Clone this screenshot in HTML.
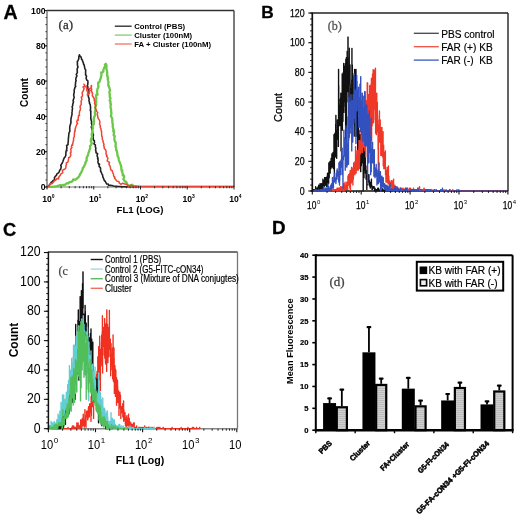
<!DOCTYPE html>
<html><head><meta charset="utf-8"><style>html,body{margin:0;padding:0;background:#fff;width:520px;height:526px;overflow:hidden}svg{display:block;filter:blur(0.35px)}</style></head>
<body>
<svg width="520" height="526" viewBox="0 0 520 526">
<rect width="520" height="526" fill="#fff"/>
<text x="3.5" y="18.6" font-size="19.6" font-family='"Liberation Sans", sans-serif' fill="#000" stroke="#000" stroke-width="0.3" font-weight="bold" >A</text>
<line x1="47" y1="187" x2="234" y2="187" stroke="#777" stroke-width="1.0" />
<polyline points="47,187 48.19,186.01 49.57,184.86 50.55,183.42 51.1,182.51 52.66,181.01 53.13,180.39 54.55,179.83 54.47,177.4 55.66,175.99 56.48,175.32 56.89,173.97 58.87,172.56 59.66,170.67 59.85,169.94 60.83,168.93 61.23,166.27 60.7,165.35 62.27,163.04 62.7,161.96 63.31,160.19 63.47,159.72 64.33,157.67 64.94,157.16 65.78,155.59 65.83,153.88 66.06,150.98 66.96,150.67 66.57,149.46 66.93,148.04 66.62,145.53 68.05,144.63 68.04,142.8 68.22,141.37 68.34,140.97 68.35,138.32 68.59,137.25 68.63,136.27 68.85,133.86 69.15,132.62 69.88,131.22 69.74,129.66 69.74,127.36 69.78,126.62 69.99,125.86 71.02,122.59 70.85,122.51 70.92,120.54 70.99,118.55 70.94,118.61 71.55,116.34 72.11,113.64 71.88,112.88 72.12,111.64 72.28,109.65 72.56,108.64 72.11,106.65 72.76,105.56 72.69,104.49 73.48,101.68 73.04,100.68 73.69,98.74 74.19,97.56 73.69,95.24 73.75,94.07 74.2,92.76 74.29,91.88 74.1,90.5 74.9,87.5 75.77,86.31 75.27,85.66 75.61,82.57 75.56,81.97 76.18,80.65 75.75,79.92 75.93,78.04 76.92,75.9 76.26,74.33 77.1,72.87 77.4,72.39 77.11,69.69 77.37,68.23 78.03,67.09 77.42,65.27 77.44,63.69 77.32,61.6 77.98,60.73 78.66,58.93 78.87,58.43 78.79,56.7 79.42,54.87 80.19,56.32 81.14,57.11 81.61,59.34 82.38,60.12 82.9,61.94 83.18,62.28 83.76,64.72 84.23,64.99 84.43,66.3 84.94,68.85 85.73,70.01 85.57,72.16 85.69,74.92 85.44,74.57 86.56,76.19 86.09,78.19 86.66,79.86 87.85,80.95 87.94,82.47 87.73,84.55 87.27,85.98 87.85,86.59 87.84,88.7 88.42,90.31 89.1,91.2 88.54,93.52 88.36,94.38 88.41,97.01 88.99,98.08 89.13,99.55 88.96,100.67 89.6,102.49 89.32,102.89 90.32,104.94 90.48,107.37 90.67,107.41 90.29,110.73 90.82,110.71 90.73,113.74 90.75,114.32 90.89,116.83 90.66,117.98 90.73,118.52 91.65,121.73 91.42,123.39 91.68,124.02 92.08,125.44 91.22,127.04 91.68,128.09 92.24,130.86 92.59,131.4 92.58,133.21 93.35,134.29 93.32,135.91 93.08,137.04 93.45,140.08 94.34,140.75 94.49,142.94 93.9,143.89 95.34,144.98 95.34,146.73 95.87,148.1 95.59,149.95 95.97,151.22 96.02,152.77 97.68,153.63 97.05,155.48 98.03,158.46 97.57,158.57 98.2,159.84 97.89,162.18 98.7,164.33 99.53,164.12 99.07,166.37 100.29,167.61 100.55,168.38 100.58,171.33 101.29,172.33 101.83,173.84 102.5,174.79 102.85,176.97 103.27,177.82 103.98,179.51 104.27,180.37 105.25,181.41 106.77,184.05 108.19,184.05 108.58,185.3 110.64,185.41 111.92,185.47 113.67,186.03 115.18,186.31 116.73,186.39 118.27,186.46 119.81,186.54 121.35,186.62 122.89,186.69 124.43,186.77 125.97,186.8 127.52,186.8 129.06,186.8 130.6,186.8 132.15,186.8 133.69,186.8 135.23,186.8 136.78,186.8 138.32,186.8 139.86,186.8 141.41,186.8 142.95,186.8 144.49,186.8 146.04,186.8 147.58,186.8 149.12,186.8 150.67,186.8 152.21,186.8 153.75,186.8 155.3,186.8 156.84,186.8 158.38,186.8 159.93,186.8 161.47,186.8 163.01,186.8 164.55,186.8 166.1,186.8 167.64,186.8 169.18,186.8 170.73,186.8 172.27,186.8 173.81,186.8 175.36,186.8 176.9,186.8 178.44,186.8 179.99,186.8 181.53,186.8 183.07,186.8 184.62,186.8 186.16,186.8 187.7,186.8 189.25,186.8 190.79,186.8 192.33,186.8 193.88,186.8 195.42,186.8 196.96,186.8 198.51,186.8 200.05,186.8 201.59,186.8 203.14,186.8 204.68,186.8 206.22,186.8 207.77,186.8 209.31,186.8 210.85,186.8 212.39,186.8 213.94,186.8 215.48,186.8 217.02,186.8 218.57,186.8 220.11,186.8 221.65,186.8 223.2,186.8 224.74,186.8 226.28,186.8 227.83,186.8 229.37,186.8 230.91,186.8 232.46,186.8 234,186.8" fill="none" stroke="#222" stroke-width="1.6" stroke-linejoin="round" />
<polyline points="47,187 48.48,186.95 49.95,186.9 51.43,186.84 52.91,186.77 54.37,186.56 55.83,186.36 57.3,186.15 58.53,185.51 60.36,185.17 61.8,185.38 63.72,184.99 64.51,185.11 65.4,184.42 67.05,183.05 68.36,183.36 69.63,181.97 71.6,181.85 72.48,181.32 73.2,179.39 75.37,179.83 76.28,179.01 77.66,177.97 78.71,176.9 79.57,175.61 80.02,173.93 81.11,173.03 81.49,171.54 82.14,170.61 82.81,168.51 82.8,168.05 83.93,166.68 84.56,165.19 85.4,163.69 85.29,162.88 86.79,160.13 86.67,159.99 86.62,158.45 86.86,157.06 87.8,155.7 88.3,153.66 88.5,152.48 89.21,151.61 89.38,150.07 90.22,148.51 89.98,146.02 90.46,145.79 91.05,144.71 91.85,143.15 90.79,141.23 91.21,138.69 91.3,138.73 92.12,136.62 91.65,133.72 92.11,134.01 92.5,131.43 92.39,130.08 92.62,129.02 92.99,128.7 92.59,126.25 93,125.16 93.56,124.58 93.94,123.02 94.01,120.54 93.62,118.99 94.27,116.91 94.91,115.78 95.01,114.99 94.96,113.5 94.86,111.87 95.59,110.93 95.27,108.4 95.15,107.35 95.38,106.35 96.28,104.79 95.94,103.6 96.37,101.72 95.87,99.82 96.48,98.75 96.02,96.46 96.34,94.61 97.58,94.49 97.25,92.66 97.07,91.43 97.51,88.77 97.94,88.12 98.54,86.53 98.22,84.92 98.16,82.66 99.08,82.39 99.58,81.7 100.01,79.97 100.83,77.95 100.87,76.88 101.47,75.93 101.25,72.42 102.42,72.59 103.33,71.59 103.32,70.27 103.6,69.48 104.12,67.77 105.31,65.93 104.93,64.57 105.79,63.84 106.21,64.51 106.53,66.27 106.32,68.3 106.81,70.39 106.82,70.58 107.17,72.11 107.26,73.73 107.07,75.88 107.64,76.53 108.14,78.9 107.65,78.9 108.09,80.84 108.59,82.3 108.14,84.36 108.76,85.98 108.46,85.92 109.39,87.75 109.96,89.97 109.99,90.84 109.33,91.8 109.82,94.8 109.74,95.95 109.87,97.42 110.54,98.31 109.63,100.69 110.6,101.4 110.33,103.67 110.97,103.94 110.65,105.45 110.46,107.56 110.92,108.49 111.21,110.79 111.08,112.01 111.41,112.77 111.24,114.83 110.85,116.04 112.13,118.27 112.25,118.81 112.24,120.39 112.4,122.84 112.94,124.93 112.6,126.25 112.7,126.55 113.07,128.11 113.76,130.37 113.04,130.84 114.17,131.79 113.72,133.91 113.76,135.57 114.81,136.27 114.53,137.24 114.3,138.83 114.84,141.56 115.51,142.17 115.81,144 115.43,145.68 115.94,147.39 116.25,148.28 116.13,150.21 116.87,150.81 117.1,152.55 117.29,153.59 117.68,156.31 118.25,157.04 118.61,158.05 118.77,159.71 119.19,161.22 120.12,163.2 120.17,163.26 120.78,165.02 121.27,166.85 121.44,170.02 122.44,170.5 121.73,171.28 122.72,173.2 122.71,175.43 123.9,175.47 124.24,176.82 123.33,179.19 124.08,180.18 125.12,181.68 126.26,181.97 127.33,184.43 128.13,185.3 129.4,185.61 130.82,186.11 132.03,184.64 133.52,186.01 134.99,186.17 136.46,186.32 137.94,186.48 139.41,186.63 140.88,186.79 142.35,186.8 143.83,186.8 145.31,186.8 146.79,186.8 148.27,186.8 149.74,186.8 151.22,186.8 152.7,186.8 154.18,186.8 155.66,186.8 157.13,186.8 158.61,186.8 160.09,186.8 161.57,186.8 163.05,186.8 164.53,186.8 166,186.8 167.48,186.8 168.96,186.8 170.44,186.8 171.92,186.8 173.39,186.8 174.87,186.8 176.35,186.8 177.83,186.8 179.31,186.8 180.79,186.8 182.26,186.8 183.74,186.8 185.22,186.8 186.7,186.8 188.18,186.8 189.65,186.8 191.13,186.8 192.61,186.8 194.09,186.8 195.57,186.8 197.05,186.8 198.52,186.8 200,186.8 201.48,186.8 202.96,186.8 204.44,186.8 205.91,186.8 207.39,186.8 208.87,186.8 210.35,186.8 211.83,186.8 213.31,186.8 214.78,186.8 216.26,186.8 217.74,186.8 219.22,186.8 220.7,186.8 222.17,186.8 223.65,186.8 225.13,186.8 226.61,186.8 228.09,186.8 229.57,186.8 231.04,186.8 232.52,186.8 234,186.8" fill="none" stroke="#6cc848" stroke-width="2.3" stroke-linejoin="round" />
<polyline points="47,187 48.11,186.22 49.03,186.49 50.31,183.48 52.01,183.71 51.93,183.64 53.65,182 54.22,180.81 55.6,180.2 56.83,178.61 57.46,178.55 58.67,178.94 58.73,177.16 60.61,174.8 60.9,173.94 62.25,173.21 62.73,172.86 62.37,170.57 63.66,169.46 64.65,169.21 65.77,168 65.95,166.06 66.45,164.36 66.33,162.84 67.83,162.08 68.44,159.89 68.27,160.41 68.66,158.31 68.57,157.69 69.8,157.21 70.79,155.48 70.4,152.77 70.93,152.67 71,151.53 70.79,149.08 71.95,147.64 71.36,146.83 72.06,144.62 72.57,145.15 73.12,141.51 73.28,140.98 73.6,140.17 73.52,138.88 73.6,137.79 74.35,136.52 74.34,134.91 74.39,134.39 74.68,131.09 75.22,131.05 75,129.29 75.45,128.47 75.61,127.2 76.53,125.19 76.88,124.03 77.72,123.56 76.73,121.96 77.29,120.02 78.18,120.33 78.16,119.2 78.51,115.64 79.64,115.4 79.29,115.43 79.39,113.1 79.55,111.43 80.31,109.82 80.47,108.28 80.03,107.13 80.33,105.58 81.05,105.02 81.26,102.99 81.04,101.63 81.71,99.84 81.91,99.19 81.27,97.35 82.02,96.44 82.51,95.83 82.38,94.09 82.05,92.84 82.96,91.42 83.56,89.91 84.1,88.46 82.97,87.02 84.94,86.33 83.9,84.18 85.48,86.7 86.42,86.99 86.72,87.81 86.81,89.26 86.72,90.45 87.75,92.25 87.65,93.02 87.38,95.44 89.64,93.06 89.2,90.86 89.93,90.47 89.27,88.39 90.46,88.25 91.02,87.66 91.58,86.19 91.35,85.5 91.15,87.18 91.74,90.04 91.24,90.5 91.65,91.65 92.52,93.61 92.36,95.79 92.88,96.43 93.19,97.06 94.24,98.5 94.33,99.98 94.16,100.56 94.93,101.61 94.53,103.59 95.01,104.31 95.78,106.15 95.34,107.56 96.02,110.22 95.97,109.62 96.82,111.37 97.69,112.66 97.13,114.34 97.78,116.03 97.67,116.43 97.88,117.55 98.14,118.38 99.41,120.13 100.03,122.33 99.65,123.36 99.52,124.04 100.33,125.75 100.25,127.32 100.96,128.92 101.05,129.59 101.31,131.12 101.69,131.51 101.52,133.24 101.85,136.23 101.64,135.28 102.36,137.72 102.27,139.38 102.99,140.35 102.96,141.42 103.6,143.2 103.99,144.56 103.58,145.84 104.06,146.09 104.28,148.46 105.28,149.33 106.01,150.81 106.1,152.58 106.06,154.12 107.1,155.57 106.42,156.03 107.9,158.18 107.51,159.63 107.14,160.9 109.49,162.35 109.49,162.73 108.94,164 109.77,165.9 110.02,165.88 110.55,168.12 110.49,168.93 111.29,170.28 112.22,170.71 112.64,172.47 113.5,174.25 113.61,176.05 114.94,177.37 114.35,177.98 115.33,179.08 115.6,179.54 116.9,181.12 118.89,181.58 119.13,182.94 120.83,184.27 121.89,183.64 122.82,183.2 124.35,184.03 125.57,184.11 126.92,184.49 128.7,186.21 130,185.78 130.9,184.95 132.44,186.08 133.78,186.3 135.12,186.5 136.47,186.51 137.83,186.51 139.18,186.52 140.54,186.52 141.89,186.53 143.24,186.53 144.6,186.54 145.95,186.54 147.31,186.55 148.66,186.55 150.02,186.56 151.37,186.57 152.73,186.57 154.08,186.58 155.44,186.58 156.79,186.59 158.14,186.59 159.5,186.6 160.85,186.6 162.21,186.6 163.56,186.6 164.92,186.6 166.27,186.6 167.63,186.6 168.98,186.6 170.34,186.6 171.69,186.6 173.04,186.6 174.4,186.6 175.75,186.6 177.11,186.6 178.46,186.6 179.82,186.6 181.17,186.6 182.53,186.6 183.88,186.6 185.24,186.6 186.59,186.6 187.94,186.6 189.3,186.6 190.65,186.6 192.01,186.6 193.36,186.6 194.72,186.6 196.07,186.6 197.43,186.6 198.78,186.6 200.14,186.6 201.49,186.6 202.84,186.6 204.2,186.6 205.55,186.6 206.91,186.6 208.26,186.6 209.62,186.6 210.97,186.6 212.33,186.6 213.68,186.6 215.04,186.6 216.39,186.6 217.75,186.6 219.1,186.6 220.45,186.6 221.81,186.6 223.16,186.6 224.52,186.6 225.87,186.6 227.23,186.6 228.58,186.6 229.94,186.6 231.29,186.6 232.65,186.6 234,186.6" fill="none" stroke="#ee4433" stroke-width="1.5" stroke-linejoin="round" />
<line x1="47" y1="10.5" x2="234" y2="10.5" stroke="#333" stroke-width="1.3" />
<line x1="234" y1="10.5" x2="234" y2="187" stroke="#333" stroke-width="1.3" />
<line x1="47" y1="10.5" x2="47" y2="187" stroke="#666" stroke-width="1.3" />
<line x1="45.4" y1="187" x2="47" y2="187" stroke="#333" stroke-width="0.9" />
<line x1="45.4" y1="179.94" x2="47" y2="179.94" stroke="#333" stroke-width="0.9" />
<line x1="45.4" y1="172.88" x2="47" y2="172.88" stroke="#333" stroke-width="0.9" />
<line x1="45.4" y1="165.82" x2="47" y2="165.82" stroke="#333" stroke-width="0.9" />
<line x1="45.4" y1="158.76" x2="47" y2="158.76" stroke="#333" stroke-width="0.9" />
<line x1="45.4" y1="151.7" x2="47" y2="151.7" stroke="#333" stroke-width="0.9" />
<line x1="45.4" y1="144.64" x2="47" y2="144.64" stroke="#333" stroke-width="0.9" />
<line x1="45.4" y1="137.58" x2="47" y2="137.58" stroke="#333" stroke-width="0.9" />
<line x1="45.4" y1="130.52" x2="47" y2="130.52" stroke="#333" stroke-width="0.9" />
<line x1="45.4" y1="123.46" x2="47" y2="123.46" stroke="#333" stroke-width="0.9" />
<line x1="45.4" y1="116.4" x2="47" y2="116.4" stroke="#333" stroke-width="0.9" />
<line x1="45.4" y1="109.34" x2="47" y2="109.34" stroke="#333" stroke-width="0.9" />
<line x1="45.4" y1="102.28" x2="47" y2="102.28" stroke="#333" stroke-width="0.9" />
<line x1="45.4" y1="95.22" x2="47" y2="95.22" stroke="#333" stroke-width="0.9" />
<line x1="45.4" y1="88.16" x2="47" y2="88.16" stroke="#333" stroke-width="0.9" />
<line x1="45.4" y1="81.1" x2="47" y2="81.1" stroke="#333" stroke-width="0.9" />
<line x1="45.4" y1="74.04" x2="47" y2="74.04" stroke="#333" stroke-width="0.9" />
<line x1="45.4" y1="66.98" x2="47" y2="66.98" stroke="#333" stroke-width="0.9" />
<line x1="45.4" y1="59.92" x2="47" y2="59.92" stroke="#333" stroke-width="0.9" />
<line x1="45.4" y1="52.86" x2="47" y2="52.86" stroke="#333" stroke-width="0.9" />
<line x1="45.4" y1="45.8" x2="47" y2="45.8" stroke="#333" stroke-width="0.9" />
<line x1="45.4" y1="38.74" x2="47" y2="38.74" stroke="#333" stroke-width="0.9" />
<line x1="45.4" y1="31.68" x2="47" y2="31.68" stroke="#333" stroke-width="0.9" />
<line x1="45.4" y1="24.62" x2="47" y2="24.62" stroke="#333" stroke-width="0.9" />
<line x1="45.4" y1="17.56" x2="47" y2="17.56" stroke="#333" stroke-width="0.9" />
<line x1="45.4" y1="10.5" x2="47" y2="10.5" stroke="#333" stroke-width="0.9" />
<line x1="44" y1="187" x2="47" y2="187" stroke="#222" stroke-width="1.0" />
<text x="45.6" y="190.4" font-size="9.6" font-family='"Liberation Sans", sans-serif' fill="#000" font-weight="bold" text-anchor="end" textLength="4.85" lengthAdjust="spacingAndGlyphs" >0</text>
<line x1="44" y1="151.7" x2="47" y2="151.7" stroke="#222" stroke-width="1.0" />
<text x="45.6" y="155.1" font-size="9.6" font-family='"Liberation Sans", sans-serif' fill="#000" font-weight="bold" text-anchor="end" textLength="9.7" lengthAdjust="spacingAndGlyphs" >20</text>
<line x1="44" y1="116.4" x2="47" y2="116.4" stroke="#222" stroke-width="1.0" />
<text x="45.6" y="119.8" font-size="9.6" font-family='"Liberation Sans", sans-serif' fill="#000" font-weight="bold" text-anchor="end" textLength="9.7" lengthAdjust="spacingAndGlyphs" >40</text>
<line x1="44" y1="81.1" x2="47" y2="81.1" stroke="#222" stroke-width="1.0" />
<text x="45.6" y="84.5" font-size="9.6" font-family='"Liberation Sans", sans-serif' fill="#000" font-weight="bold" text-anchor="end" textLength="9.7" lengthAdjust="spacingAndGlyphs" >60</text>
<line x1="44" y1="45.8" x2="47" y2="45.8" stroke="#222" stroke-width="1.0" />
<text x="45.6" y="49.2" font-size="9.6" font-family='"Liberation Sans", sans-serif' fill="#000" font-weight="bold" text-anchor="end" textLength="9.7" lengthAdjust="spacingAndGlyphs" >80</text>
<line x1="44" y1="10.5" x2="47" y2="10.5" stroke="#222" stroke-width="1.0" />
<text x="45.6" y="13.9" font-size="9.6" font-family='"Liberation Sans", sans-serif' fill="#000" font-weight="bold" text-anchor="end" textLength="14.55" lengthAdjust="spacingAndGlyphs" >100</text>
<line x1="47" y1="186" x2="47" y2="189.5" stroke="#222" stroke-width="1.0" />
<text x="47" y="201.6" font-size="8.6" font-family='"Liberation Sans", sans-serif' fill="#000" font-weight="bold" text-anchor="middle" >10</text>
<text x="51.7" y="197.5" font-size="5" font-family='"Liberation Sans", sans-serif' fill="#000" font-weight="bold" >0</text>
<line x1="61.07" y1="186.1" x2="61.07" y2="188.3" stroke="#333" stroke-width="1.0" />
<line x1="69.31" y1="186.1" x2="69.31" y2="188.3" stroke="#333" stroke-width="1.0" />
<line x1="75.15" y1="186.1" x2="75.15" y2="188.3" stroke="#333" stroke-width="1.0" />
<line x1="79.68" y1="186.1" x2="79.68" y2="188.3" stroke="#333" stroke-width="1.0" />
<line x1="83.38" y1="186.1" x2="83.38" y2="188.3" stroke="#333" stroke-width="1.0" />
<line x1="86.51" y1="186.1" x2="86.51" y2="188.3" stroke="#333" stroke-width="1.0" />
<line x1="89.22" y1="186.1" x2="89.22" y2="188.3" stroke="#333" stroke-width="1.0" />
<line x1="91.61" y1="186.1" x2="91.61" y2="188.3" stroke="#333" stroke-width="1.0" />
<line x1="93.75" y1="186" x2="93.75" y2="189.5" stroke="#222" stroke-width="1.0" />
<text x="93.75" y="201.6" font-size="8.6" font-family='"Liberation Sans", sans-serif' fill="#000" font-weight="bold" text-anchor="middle" >10</text>
<text x="98.45" y="197.5" font-size="5" font-family='"Liberation Sans", sans-serif' fill="#000" font-weight="bold" >1</text>
<line x1="107.82" y1="186.1" x2="107.82" y2="188.3" stroke="#333" stroke-width="1.0" />
<line x1="116.06" y1="186.1" x2="116.06" y2="188.3" stroke="#333" stroke-width="1.0" />
<line x1="121.9" y1="186.1" x2="121.9" y2="188.3" stroke="#333" stroke-width="1.0" />
<line x1="126.43" y1="186.1" x2="126.43" y2="188.3" stroke="#333" stroke-width="1.0" />
<line x1="130.13" y1="186.1" x2="130.13" y2="188.3" stroke="#333" stroke-width="1.0" />
<line x1="133.26" y1="186.1" x2="133.26" y2="188.3" stroke="#333" stroke-width="1.0" />
<line x1="135.97" y1="186.1" x2="135.97" y2="188.3" stroke="#333" stroke-width="1.0" />
<line x1="138.36" y1="186.1" x2="138.36" y2="188.3" stroke="#333" stroke-width="1.0" />
<line x1="140.5" y1="186" x2="140.5" y2="189.5" stroke="#222" stroke-width="1.0" />
<text x="140.5" y="201.6" font-size="8.6" font-family='"Liberation Sans", sans-serif' fill="#000" font-weight="bold" text-anchor="middle" >10</text>
<text x="145.2" y="197.5" font-size="5" font-family='"Liberation Sans", sans-serif' fill="#000" font-weight="bold" >2</text>
<line x1="154.57" y1="186.1" x2="154.57" y2="188.3" stroke="#333" stroke-width="1.0" />
<line x1="162.81" y1="186.1" x2="162.81" y2="188.3" stroke="#333" stroke-width="1.0" />
<line x1="168.65" y1="186.1" x2="168.65" y2="188.3" stroke="#333" stroke-width="1.0" />
<line x1="173.18" y1="186.1" x2="173.18" y2="188.3" stroke="#333" stroke-width="1.0" />
<line x1="176.88" y1="186.1" x2="176.88" y2="188.3" stroke="#333" stroke-width="1.0" />
<line x1="180.01" y1="186.1" x2="180.01" y2="188.3" stroke="#333" stroke-width="1.0" />
<line x1="182.72" y1="186.1" x2="182.72" y2="188.3" stroke="#333" stroke-width="1.0" />
<line x1="185.11" y1="186.1" x2="185.11" y2="188.3" stroke="#333" stroke-width="1.0" />
<line x1="187.25" y1="186" x2="187.25" y2="189.5" stroke="#222" stroke-width="1.0" />
<text x="187.25" y="201.6" font-size="8.6" font-family='"Liberation Sans", sans-serif' fill="#000" font-weight="bold" text-anchor="middle" >10</text>
<text x="191.95" y="197.5" font-size="5" font-family='"Liberation Sans", sans-serif' fill="#000" font-weight="bold" >3</text>
<line x1="201.32" y1="186.1" x2="201.32" y2="188.3" stroke="#333" stroke-width="1.0" />
<line x1="209.56" y1="186.1" x2="209.56" y2="188.3" stroke="#333" stroke-width="1.0" />
<line x1="215.4" y1="186.1" x2="215.4" y2="188.3" stroke="#333" stroke-width="1.0" />
<line x1="219.93" y1="186.1" x2="219.93" y2="188.3" stroke="#333" stroke-width="1.0" />
<line x1="223.63" y1="186.1" x2="223.63" y2="188.3" stroke="#333" stroke-width="1.0" />
<line x1="226.76" y1="186.1" x2="226.76" y2="188.3" stroke="#333" stroke-width="1.0" />
<line x1="229.47" y1="186.1" x2="229.47" y2="188.3" stroke="#333" stroke-width="1.0" />
<line x1="231.86" y1="186.1" x2="231.86" y2="188.3" stroke="#333" stroke-width="1.0" />
<line x1="234" y1="186" x2="234" y2="189.5" stroke="#222" stroke-width="1.0" />
<text x="234" y="201.6" font-size="8.6" font-family='"Liberation Sans", sans-serif' fill="#000" font-weight="bold" text-anchor="middle" >10</text>
<text x="238.7" y="197.5" font-size="5" font-family='"Liberation Sans", sans-serif' fill="#000" font-weight="bold" >4</text>
<text x="24.5" y="92.5" font-size="10" font-family='"Liberation Sans", sans-serif' fill="#000" font-weight="bold" text-anchor="middle" transform="rotate(-90 24.5 92.5)" dominant-baseline="central">Count</text>
<text x="140" y="212.6" font-size="9.6" font-family='"Liberation Sans", sans-serif' fill="#000" font-weight="bold" text-anchor="middle" >FL1 (LOG)</text>
<text x="58.6" y="29.2" font-size="13" font-family='"Liberation Serif", serif' fill="#333" stroke="#333" stroke-width="0.3" >(a)</text>
<line x1="114.8" y1="26.2" x2="131.6" y2="26.2" stroke="#333" stroke-width="1.4" />
<text x="134.2" y="29" font-size="7.7" font-family='"Liberation Sans", sans-serif' fill="#000" font-weight="bold" textLength="51" lengthAdjust="spacingAndGlyphs" >Control (PBS)</text>
<line x1="114.8" y1="35.1" x2="131.6" y2="35.1" stroke="#8fd070" stroke-width="1.4" />
<text x="134.2" y="37.9" font-size="7.7" font-family='"Liberation Sans", sans-serif' fill="#000" font-weight="bold" textLength="58" lengthAdjust="spacingAndGlyphs" >Cluster (100nM)</text>
<line x1="114.8" y1="44" x2="131.6" y2="44" stroke="#f08070" stroke-width="1.4" />
<text x="134.2" y="46.8" font-size="7.7" font-family='"Liberation Sans", sans-serif' fill="#000" font-weight="bold" textLength="77" lengthAdjust="spacingAndGlyphs" >FA + Cluster (100nM)</text>
<text x="261.3" y="17.6" font-size="17.3" font-family='"Liberation Sans", sans-serif' fill="#000" stroke="#000" stroke-width="0.3" font-weight="bold" >B</text>
<line x1="311.5" y1="191" x2="508" y2="191" stroke="#111" stroke-width="1.7" />
<polyline points="312.3,191 312.49,191 312.49,189.52 312.87,189.52 312.87,191 313.06,191 313.06,189.52 313.26,189.52 313.26,191 313.64,191 313.64,189.52 313.83,189.52 313.83,191 314.02,191 314.02,189.52 314.21,189.52 314.21,191 315.17,191 315.17,189.52 315.36,189.52 315.36,191 315.55,191 315.55,186.55 315.74,186.55 315.74,191 316.12,191 316.12,189.52 316.31,189.52 316.31,191 316.5,191 316.5,189.52 316.69,189.52 316.69,188.03 316.88,188.03 316.88,189.52 317.08,189.52 317.08,191 317.27,191 317.27,188.03 317.46,188.03 317.46,191 317.65,191 317.65,188.03 317.84,188.03 317.84,189.52 318.03,189.52 318.03,186.55 318.22,186.55 318.22,188.03 318.41,188.03 318.41,191 318.6,191 318.6,185.07 318.79,185.07 318.79,191 318.99,191 318.99,186.55 319.18,186.55 319.18,191 319.37,191 319.37,185.07 319.56,185.07 319.56,188.03 319.75,188.03 319.75,189.52 319.94,189.52 319.94,183.59 320.13,183.59 320.13,186.55 320.32,186.55 320.32,191 320.51,191 320.51,186.55 320.7,186.55 320.7,188.03 321.28,188.03 321.28,183.59 321.66,183.59 321.66,188.03 321.85,188.03 321.85,189.52 322.04,189.52 322.04,186.55 322.23,186.55 322.23,183.59 322.42,183.59 322.42,189.52 322.61,189.52 322.61,188.03 322.81,188.03 322.81,179.14 323,179.14 323,188.03 323.19,188.03 323.19,185.07 323.38,185.07 323.38,183.59 323.57,183.59 323.57,185.07 323.76,185.07 323.76,180.62 324.14,180.62 324.14,186.55 324.33,186.55 324.33,182.1 324.53,182.1 324.53,177.65 324.72,177.65 324.72,185.07 324.91,185.07 324.91,177.65 325.1,177.65 325.1,183.59 325.29,183.59 325.29,185.07 325.48,185.07 325.48,180.62 325.67,180.62 325.67,177.65 325.86,177.65 325.86,182.1 326.05,182.1 326.05,177.65 326.24,177.65 326.24,182.1 326.44,182.1 326.44,186.55 326.63,186.55 326.63,179.14 326.82,179.14 326.82,177.65 327.01,177.65 327.01,176.17 327.2,176.17 327.2,186.55 327.39,186.55 327.39,173.2 327.58,173.2 327.58,179.14 327.77,179.14 327.77,182.1 328.15,182.1 328.15,174.69 328.54,174.69 328.54,183.59 328.73,183.59 328.73,162.82 328.92,162.82 328.92,165.79 329.11,165.79 329.11,177.65 329.3,177.65 329.3,164.31 329.49,164.31 329.49,167.27 329.68,167.27 329.68,170.24 329.87,170.24 329.87,161.34 330.06,161.34 330.06,173.2 330.26,173.2 330.26,168.75 330.45,168.75 330.45,162.82 330.64,162.82 330.64,165.79 330.83,165.79 330.83,168.75 331.02,168.75 331.02,158.37 331.21,158.37 331.21,159.86 331.4,159.86 331.4,167.27 331.59,167.27 331.59,165.79 331.78,165.79 331.78,153.93 331.97,153.93 331.97,158.37 332.36,158.37 332.36,164.31 332.55,164.31 332.55,167.27 332.74,167.27 332.74,164.31 332.93,164.31 332.93,152.44 333.31,152.44 333.31,168.75 333.5,168.75 333.5,155.41 333.69,155.41 333.69,165.79 333.88,165.79 333.88,134.65 334.08,134.65 334.08,153.93 334.27,153.93 334.27,177.65 334.46,177.65 334.46,146.51 334.65,146.51 334.65,142.06 334.84,142.06 334.84,133.16 335.03,133.16 335.03,143.54 335.22,143.54 335.22,147.99 335.41,147.99 335.41,156.89 335.6,156.89 335.6,124.27 335.79,124.27 335.79,115.37 335.99,115.37 335.99,140.58 336.37,140.58 336.37,133.16 336.56,133.16 336.56,158.37 336.75,158.37 336.75,130.2 336.94,130.2 336.94,131.68 337.13,131.68 337.13,139.09 337.32,139.09 337.32,119.82 337.51,119.82 337.51,133.16 337.71,133.16 337.71,124.27 337.9,124.27 337.9,130.2 338.09,130.2 338.09,137.61 338.28,137.61 338.28,146.51 338.47,146.51 338.47,69.39 338.66,69.39 338.66,85.71 338.85,85.71 338.85,102.02 339.04,102.02 339.04,99.05 339.23,99.05 339.23,125.75 339.42,125.75 339.42,109.43 339.62,109.43 339.62,125.75 339.81,125.75 339.81,121.3 340,121.3 340,124.27 340.19,124.27 340.19,121.3 340.38,121.3 340.38,104.99 340.57,104.99 340.57,97.57 340.76,97.57 340.76,93.12 340.95,93.12 340.95,150.96 341.14,150.96 341.14,106.47 341.33,106.47 341.33,112.4 341.53,112.4 341.53,118.33 341.72,118.33 341.72,116.85 341.91,116.85 341.91,100.54 342.1,100.54 342.1,73.84 342.29,73.84 342.29,130.2 342.48,130.2 342.48,87.19 342.67,87.19 342.67,79.77 342.86,79.77 342.86,121.3 343.05,121.3 343.05,81.26 343.24,81.26 343.24,72.36 343.44,72.36 343.44,81.26 343.63,81.26 343.63,63.46 343.82,63.46 343.82,112.4 344.01,112.4 344.01,106.47 344.2,106.47 344.2,102.02 344.39,102.02 344.39,66.43 344.58,66.43 344.58,84.22 344.77,84.22 344.77,96.09 344.96,96.09 344.96,97.57 345.15,97.57 345.15,91.64 345.35,91.64 345.35,63.46 345.54,63.46 345.54,143.54 345.73,143.54 345.73,59.01 345.92,59.01 345.92,119.82 346.11,119.82 346.11,140.58 346.3,140.58 346.3,57.53 346.49,57.53 346.49,133.16 346.68,133.16 346.68,70.88 346.87,70.88 346.87,102.02 347.06,102.02 347.06,51.23 347.26,51.23 347.26,59.01 347.45,59.01 347.45,57.53 347.64,57.53 347.64,90.16 348.02,90.16 348.02,84.22 348.21,84.22 348.21,91.64 348.4,91.64 348.4,66.43 348.59,66.43 348.59,85.71 348.78,85.71 348.78,116.85 348.98,116.85 348.98,57.53 349.17,57.53 349.17,48.17 349.36,48.17 349.36,81.26 349.55,81.26 349.55,78.29 349.74,78.29 349.74,70.88 349.93,70.88 349.93,64.94 350.12,64.94 350.12,84.22 350.31,84.22 350.31,112.4 350.5,112.4 350.5,118.33 350.69,118.33 350.69,94.6 350.89,94.6 350.89,88.67 351.08,88.67 351.08,100.54 351.27,100.54 351.27,88.67 351.46,88.67 351.46,109.43 351.65,109.43 351.65,79.77 351.84,79.77 351.84,48.35 352.03,48.35 352.03,96.09 352.22,96.09 352.22,64.94 352.41,64.94 352.41,87.19 352.6,87.19 352.6,91.64 352.8,91.64 352.8,122.78 352.99,122.78 352.99,90.16 353.18,90.16 353.18,99.05 353.37,99.05 353.37,88.67 353.56,88.67 353.56,76.81 353.75,76.81 353.75,87.19 353.94,87.19 353.94,75.33 354.13,75.33 354.13,136.13 354.32,136.13 354.32,116.85 354.51,116.85 354.51,69.39 354.71,69.39 354.71,115.37 354.9,115.37 354.9,125.75 355.09,125.75 355.09,99.05 355.28,99.05 355.28,116.85 355.47,116.85 355.47,115.37 355.66,115.37 355.66,116.85 355.85,116.85 355.85,69.39 356.04,69.39 356.04,110.92 356.23,110.92 356.23,118.33 356.42,118.33 356.42,136.13 356.62,136.13 356.62,81.26 356.81,81.26 356.81,134.65 357,134.65 357,96.09 357.19,96.09 357.19,110.92 357.38,110.92 357.38,115.37 357.57,115.37 357.57,153.93 357.76,153.93 357.76,130.2 357.95,130.2 357.95,116.85 358.14,116.85 358.14,152.44 358.33,152.44 358.33,122.78 358.53,122.78 358.53,145.03 358.72,145.03 358.72,156.89 358.91,156.89 358.91,130.2 359.1,130.2 359.1,139.09 359.29,139.09 359.29,159.86 359.48,159.86 359.48,136.13 359.67,136.13 359.67,145.03 359.86,145.03 359.86,137.61 360.05,137.61 360.05,139.09 360.24,139.09 360.24,134.65 360.44,134.65 360.44,158.37 360.63,158.37 360.63,171.72 360.82,171.72 360.82,162.82 361.01,162.82 361.01,156.89 361.2,156.89 361.2,165.79 361.39,165.79 361.39,145.03 361.58,145.03 361.58,146.51 361.77,146.51 361.77,159.86 361.96,159.86 361.96,149.48 362.16,149.48 362.16,159.86 362.35,159.86 362.35,162.82 362.73,162.82 362.73,143.54 362.92,143.54 362.92,149.48 363.11,149.48 363.11,191 363.3,191 363.3,173.2 363.49,173.2 363.49,168.75 363.68,168.75 363.68,147.99 363.87,147.99 363.87,177.65 364.07,177.65 364.07,153.93 364.26,153.93 364.26,159.86 364.45,159.86 364.45,147.99 364.64,147.99 364.64,170.24 364.83,170.24 364.83,168.75 365.02,168.75 365.02,165.79 365.21,165.79 365.21,153.93 365.4,153.93 365.4,173.2 365.59,173.2 365.59,165.79 365.98,165.79 365.98,179.14 366.17,179.14 366.17,170.24 366.36,170.24 366.36,177.65 366.74,177.65 366.74,189.52 366.93,189.52 366.93,176.17 367.12,176.17 367.12,185.07 367.31,185.07 367.31,180.62 367.5,180.62 367.5,177.65 367.89,177.65 367.89,174.69 368.08,174.69 368.08,180.62 368.27,180.62 368.27,177.65 368.46,177.65 368.46,182.1 368.84,182.1 368.84,174.69 369.03,174.69 369.03,185.07 369.22,185.07 369.22,180.62 369.41,180.62 369.41,182.1 369.6,182.1 369.6,185.07 369.8,185.07 369.8,186.55 369.99,186.55 369.99,182.1 370.18,182.1 370.18,188.03 370.37,188.03 370.37,186.55 370.56,186.55 370.56,185.07 370.75,185.07 370.75,186.55 371.13,186.55 371.13,185.07 371.32,185.07 371.32,179.14 371.51,179.14 371.51,185.07 371.9,185.07 371.9,189.52 372.09,189.52 372.09,186.55 372.28,186.55 372.28,189.52 372.47,189.52 372.47,188.03 373.23,188.03 373.23,186.55 373.43,186.55 373.43,188.03 373.62,188.03 373.62,186.55 373.81,186.55 373.81,188.03 374,188.03 374,186.55 374.19,186.55 374.19,188.03 374.38,188.03 374.38,189.52 374.57,189.52 374.57,191 374.76,191 374.76,189.52 374.95,189.52 374.95,188.03 375.14,188.03 375.14,189.52 375.34,189.52 375.34,191 376.1,191 376.1,189.52 376.29,189.52 376.29,191 376.86,191 376.86,189.52 377.05,189.52 377.05,191 377.63,191 377.63,188.03 377.82,188.03 377.82,189.52 378.2,189.52 378.2,191 378.39,191 378.39,188.03 378.58,188.03 378.58,191 379.92,191 379.92,189.52 380.11,189.52 380.11,191 380.3,191 380.3,189.52 380.49,189.52 380.49,191 382.02,191 382.02,188.03 382.21,188.03 382.21,191 382.78,191 382.78,189.52 383.17,189.52 383.17,191 384.31,191 384.31,189.52 384.5,189.52 384.5,191 393.86,191 393.86,189.52 394.05,189.52 394.05,191 394.25,191 394.25,189.52 394.44,189.52 394.44,191 507.9,191" fill="none" stroke="#111" stroke-width="1.2" stroke-linejoin="round" />
<polyline points="347.8,79.77 347.8,36.77 348.2,36.77 348.2,72.36" fill="none" stroke="#111" stroke-width="0.9" stroke-linejoin="round" />
<polyline points="312.3,191 326.82,191 326.82,189.52 327.01,189.52 327.01,191 329.3,191 329.3,189.52 329.49,189.52 329.49,191 331.78,191 331.78,188.03 331.97,188.03 331.97,191 333.31,191 333.31,189.52 333.88,189.52 333.88,191 334.84,191 334.84,189.52 335.03,189.52 335.03,191 335.22,191 335.22,189.52 336.18,189.52 336.18,191 336.94,191 336.94,188.03 337.13,188.03 337.13,191 337.51,191 337.51,189.52 337.71,189.52 337.71,188.03 337.9,188.03 337.9,189.52 338.28,189.52 338.28,191 338.47,191 338.47,189.52 338.66,189.52 338.66,188.03 338.85,188.03 338.85,191 339.23,191 339.23,188.03 339.62,188.03 339.62,191 339.81,191 339.81,189.52 340,189.52 340,188.03 340.38,188.03 340.38,186.55 340.57,186.55 340.57,191 340.95,191 340.95,188.03 341.14,188.03 341.14,186.55 341.33,186.55 341.33,188.03 341.53,188.03 341.53,191 341.72,191 341.72,189.52 342.1,189.52 342.1,188.03 342.67,188.03 342.67,189.52 342.86,189.52 342.86,186.55 343.05,186.55 343.05,188.03 343.24,188.03 343.24,191 343.44,191 343.44,186.55 343.63,186.55 343.63,183.59 343.82,183.59 343.82,188.03 344.01,188.03 344.01,191 344.2,191 344.2,189.52 344.77,189.52 344.77,186.55 344.96,186.55 344.96,182.1 345.15,182.1 345.15,188.03 345.35,188.03 345.35,189.52 345.54,189.52 345.54,185.07 345.73,185.07 345.73,189.52 345.92,189.52 345.92,188.03 346.11,188.03 346.11,185.07 346.3,185.07 346.3,189.52 346.49,189.52 346.49,185.07 346.68,185.07 346.68,182.1 346.87,182.1 346.87,186.55 347.06,186.55 347.06,183.59 347.45,183.59 347.45,188.03 347.64,188.03 347.64,189.52 347.83,189.52 347.83,176.17 348.02,176.17 348.02,179.14 348.21,179.14 348.21,182.1 348.4,182.1 348.4,174.69 348.59,174.69 348.59,185.07 348.78,185.07 348.78,183.59 349.17,183.59 349.17,182.1 349.36,182.1 349.36,174.69 349.55,174.69 349.55,173.2 349.74,173.2 349.74,188.03 349.93,188.03 349.93,179.14 350.12,179.14 350.12,170.24 350.31,170.24 350.31,191 350.5,191 350.5,179.14 350.69,179.14 350.69,182.1 350.89,182.1 350.89,183.59 351.08,183.59 351.08,176.17 351.27,176.17 351.27,180.62 351.46,180.62 351.46,167.27 351.65,167.27 351.65,182.1 351.84,182.1 351.84,167.27 352.03,167.27 352.03,174.69 352.41,174.69 352.41,182.1 352.6,182.1 352.6,168.75 352.8,168.75 352.8,185.07 352.99,185.07 352.99,168.75 353.18,168.75 353.18,179.14 353.37,179.14 353.37,177.65 353.56,177.65 353.56,162.82 353.75,162.82 353.75,170.24 354.13,170.24 354.13,171.72 354.32,171.72 354.32,170.24 354.51,170.24 354.51,168.75 354.71,168.75 354.71,174.69 354.9,174.69 354.9,161.34 355.09,161.34 355.09,168.75 355.28,168.75 355.28,162.82 355.47,162.82 355.47,146.51 355.66,146.51 355.66,170.24 355.85,170.24 355.85,167.27 356.04,167.27 356.04,173.2 356.23,173.2 356.23,155.41 356.42,155.41 356.42,164.31 356.81,164.31 356.81,170.24 357,170.24 357,150.96 357.19,150.96 357.19,164.31 357.38,164.31 357.38,150.96 357.57,150.96 357.57,152.44 357.76,152.44 357.76,150.96 357.95,150.96 357.95,152.44 358.14,152.44 358.14,170.24 358.33,170.24 358.33,153.93 358.53,153.93 358.53,152.44 358.72,152.44 358.72,147.99 358.91,147.99 358.91,140.58 359.29,140.58 359.29,168.75 359.48,168.75 359.48,161.34 359.67,161.34 359.67,140.58 359.86,140.58 359.86,147.99 360.05,147.99 360.05,150.96 360.24,150.96 360.24,149.48 360.44,149.48 360.44,153.93 360.63,153.93 360.63,152.44 361.01,152.44 361.01,118.33 361.39,118.33 361.39,149.48 361.58,149.48 361.58,143.54 361.77,143.54 361.77,130.2 361.96,130.2 361.96,124.27 362.16,124.27 362.16,125.75 362.35,125.75 362.35,152.44 362.54,152.44 362.54,146.51 362.73,146.51 362.73,121.3 362.92,121.3 362.92,130.2 363.11,130.2 363.11,124.27 363.3,124.27 363.3,139.09 363.49,139.09 363.49,118.33 363.68,118.33 363.68,134.65 363.87,134.65 363.87,124.27 364.07,124.27 364.07,130.2 364.26,130.2 364.26,147.99 364.45,147.99 364.45,139.09 364.64,139.09 364.64,115.37 364.83,115.37 364.83,150.96 365.02,150.96 365.02,91.64 365.21,91.64 365.21,142.06 365.4,142.06 365.4,112.4 365.59,112.4 365.59,156.89 365.78,156.89 365.78,100.54 365.98,100.54 365.98,131.68 366.17,131.68 366.17,121.3 366.36,121.3 366.36,139.09 366.55,139.09 366.55,136.13 366.74,136.13 366.74,137.61 366.93,137.61 366.93,131.68 367.12,131.68 367.12,82.74 367.31,82.74 367.31,99.05 367.5,99.05 367.5,82.74 367.69,82.74 367.69,145.03 367.89,145.03 367.89,153.93 368.08,153.93 368.08,146.51 368.27,146.51 368.27,94.6 368.46,94.6 368.46,113.88 368.65,113.88 368.65,147.99 368.84,147.99 368.84,94.6 369.03,94.6 369.03,121.3 369.22,121.3 369.22,112.4 369.41,112.4 369.41,104.99 369.6,104.99 369.6,85.71 369.8,85.71 369.8,99.05 369.99,99.05 369.99,119.82 370.18,119.82 370.18,112.4 370.37,112.4 370.37,140.58 370.56,140.58 370.56,112.4 370.75,112.4 370.75,140.58 370.94,140.58 370.94,84.22 371.13,84.22 371.13,124.27 371.32,124.27 371.32,78.29 371.51,78.29 371.51,140.58 371.71,140.58 371.71,78.29 371.9,78.29 371.9,118.33 372.09,118.33 372.09,125.75 372.28,125.75 372.28,110.92 372.47,110.92 372.47,73.84 372.66,73.84 372.66,96.09 372.85,96.09 372.85,107.95 373.04,107.95 373.04,69.6 373.23,69.6 373.23,97.57 373.43,97.57 373.43,122.78 373.62,122.78 373.62,90.16 373.81,90.16 373.81,70.35 374,70.35 374,99.05 374.19,99.05 374.19,70.05 374.38,70.05 374.38,72.1 374.57,72.1 374.57,109.43 374.76,109.43 374.76,84.22 374.95,84.22 374.95,103.5 375.14,103.5 375.14,119.82 375.34,119.82 375.34,68.09 375.53,68.09 375.53,133.16 375.72,133.16 375.72,96.09 375.91,96.09 375.91,104.99 376.1,104.99 376.1,103.5 376.29,103.5 376.29,134.65 376.48,134.65 376.48,122.78 376.67,122.78 376.67,93.12 376.86,93.12 376.86,127.23 377.05,127.23 377.05,112.4 377.25,112.4 377.25,102.02 377.44,102.02 377.44,131.68 377.63,131.68 377.63,119.82 377.82,119.82 377.82,125.75 378.01,125.75 378.01,149.48 378.2,149.48 378.2,183.59 378.39,183.59 378.39,165.79 378.58,165.79 378.58,131.68 378.77,131.68 378.77,124.27 378.96,124.27 378.96,139.09 379.16,139.09 379.16,115.37 379.35,115.37 379.35,110.92 379.54,110.92 379.54,142.06 379.92,142.06 379.92,136.13 380.11,136.13 380.11,119.82 380.3,119.82 380.3,139.09 380.49,139.09 380.49,127.23 380.68,127.23 380.68,155.41 380.87,155.41 380.87,152.44 381.07,152.44 381.07,142.06 381.26,142.06 381.26,143.54 381.45,143.54 381.45,139.09 381.64,139.09 381.64,150.96 381.83,150.96 381.83,127.23 382.02,127.23 382.02,155.41 382.21,155.41 382.21,142.06 382.4,142.06 382.4,156.89 382.59,156.89 382.59,143.54 382.78,143.54 382.78,142.06 382.98,142.06 382.98,131.68 383.17,131.68 383.17,165.79 383.36,165.79 383.36,158.37 383.55,158.37 383.55,145.03 383.74,145.03 383.74,168.75 383.93,168.75 383.93,152.44 384.12,152.44 384.12,167.27 384.5,167.27 384.5,168.75 384.69,168.75 384.69,158.37 385.08,158.37 385.08,164.31 385.27,164.31 385.27,150.96 385.46,150.96 385.46,174.69 385.65,174.69 385.65,170.24 385.84,170.24 385.84,182.1 386.03,182.1 386.03,176.17 386.22,176.17 386.22,173.2 386.41,173.2 386.41,182.1 386.61,182.1 386.61,180.62 386.8,180.62 386.8,173.2 386.99,173.2 386.99,167.27 387.18,167.27 387.18,182.1 387.56,182.1 387.56,174.69 387.94,174.69 387.94,183.59 388.13,183.59 388.13,179.14 388.32,179.14 388.32,165.79 388.52,165.79 388.52,180.62 388.71,180.62 388.71,176.17 388.9,176.17 388.9,180.62 389.09,180.62 389.09,186.55 389.28,186.55 389.28,180.62 389.47,180.62 389.47,185.07 389.66,185.07 389.66,186.55 389.85,186.55 389.85,182.1 390.23,182.1 390.23,186.55 390.43,186.55 390.43,185.07 390.81,185.07 390.81,182.1 391,182.1 391,186.55 391.19,186.55 391.19,180.62 391.38,180.62 391.38,185.07 391.57,185.07 391.57,183.59 391.76,183.59 391.76,186.55 391.95,186.55 391.95,180.62 392.14,180.62 392.14,189.52 392.53,189.52 392.53,186.55 392.91,186.55 392.91,189.52 393.1,189.52 393.1,186.55 393.29,186.55 393.29,182.1 393.48,182.1 393.48,179.14 393.67,179.14 393.67,191 393.86,191 393.86,189.52 394.05,189.52 394.05,191 394.25,191 394.25,189.52 394.44,189.52 394.44,191 394.63,191 394.63,188.03 394.82,188.03 394.82,185.07 395.01,185.07 395.01,188.03 395.2,188.03 395.2,186.55 395.39,186.55 395.39,191 395.58,191 395.58,189.52 395.77,189.52 395.77,186.55 395.96,186.55 395.96,191 396.16,191 396.16,188.03 396.35,188.03 396.35,191 396.54,191 396.54,188.03 396.92,188.03 396.92,191 397.11,191 397.11,189.52 397.68,189.52 397.68,191 397.88,191 397.88,189.52 398.07,189.52 398.07,188.03 398.26,188.03 398.26,191 399.02,191 399.02,189.52 399.59,189.52 399.59,191 399.79,191 399.79,189.52 399.98,189.52 399.98,191 400.17,191 400.17,188.03 400.36,188.03 400.36,191 400.55,191 400.55,189.52 400.74,189.52 400.74,191 400.93,191 400.93,189.52 401.31,189.52 401.31,191 401.7,191 401.7,188.03 401.89,188.03 401.89,191 402.08,191 402.08,189.52 402.27,189.52 402.27,191 403.03,191 403.03,188.03 403.22,188.03 403.22,189.52 403.41,189.52 403.41,191 403.61,191 403.61,189.52 403.8,189.52 403.8,191 404.18,191 404.18,189.52 404.56,189.52 404.56,191 405.13,191 405.13,188.03 405.32,188.03 405.32,189.52 405.52,189.52 405.52,191 406.09,191 406.09,189.52 406.28,189.52 406.28,191 406.66,191 406.66,189.52 406.85,189.52 406.85,188.03 407.04,188.03 407.04,191 407.43,191 407.43,188.03 407.62,188.03 407.62,189.52 408,189.52 408,191 408.95,191 408.95,189.52 409.34,189.52 409.34,188.03 409.53,188.03 409.53,191 410.48,191 410.48,188.03 410.67,188.03 410.67,191 411.25,191 411.25,189.52 412.01,189.52 412.01,191 412.39,191 412.39,189.52 412.58,189.52 412.58,191 412.97,191 412.97,189.52 413.16,189.52 413.16,191 413.35,191 413.35,188.03 413.54,188.03 413.54,191 413.92,191 413.92,189.52 414.3,189.52 414.3,191 414.88,191 414.88,189.52 415.07,189.52 415.07,191 415.26,191 415.26,189.52 415.45,189.52 415.45,191 416.98,191 416.98,189.52 417.17,189.52 417.17,191 417.74,191 417.74,189.52 417.93,189.52 417.93,191 418.12,191 418.12,188.03 418.31,188.03 418.31,191 418.5,191 418.5,189.52 418.7,189.52 418.7,191 419.46,191 419.46,186.55 419.65,186.55 419.65,189.52 420.61,189.52 420.61,191 420.99,191 420.99,189.52 421.18,189.52 421.18,191 421.56,191 421.56,189.52 421.75,189.52 421.75,191 422.13,191 422.13,189.52 422.32,189.52 422.32,191 422.52,191 422.52,189.52 422.71,189.52 422.71,191 423.47,191 423.47,189.52 423.66,189.52 423.66,191 423.85,191 423.85,188.03 424.24,188.03 424.24,191 424.81,191 424.81,189.52 425,189.52 425,191 425.95,191 425.95,189.52 426.15,189.52 426.15,191 426.34,191 426.34,189.52 426.53,189.52 426.53,191 427.1,191 427.1,189.52 427.29,189.52 427.29,191 429.01,191 429.01,189.52 429.39,189.52 429.39,191 430.16,191 430.16,189.52 430.35,189.52 430.35,191 431.68,191 431.68,189.52 432.07,189.52 432.07,191 441.04,191 441.04,189.52 441.24,189.52 441.24,191 443.91,191 443.91,189.52 444.1,189.52 444.1,191 450.02,191 450.02,189.52 450.21,189.52 450.21,191 452.7,191 452.7,189.52 452.89,189.52 452.89,191 507.9,191" fill="none" stroke="#f03828" stroke-width="1.2" stroke-linejoin="round" />
<polyline points="312.3,191 315.17,191 315.17,189.52 315.36,189.52 315.36,191 316.12,191 316.12,189.52 316.31,189.52 316.31,191 318.22,191 318.22,189.52 318.41,189.52 318.41,191 319.94,191 319.94,189.52 320.13,189.52 320.13,191 320.32,191 320.32,189.52 320.7,189.52 320.7,191 321.47,191 321.47,189.52 321.66,189.52 321.66,191 322.61,191 322.61,189.52 322.81,189.52 322.81,191 323,191 323,189.52 323.38,189.52 323.38,188.03 323.57,188.03 323.57,186.55 323.76,186.55 323.76,191 324.53,191 324.53,189.52 324.72,189.52 324.72,191 324.91,191 324.91,189.52 325.1,189.52 325.1,188.03 325.29,188.03 325.29,189.52 325.48,189.52 325.48,191 325.67,191 325.67,189.52 325.86,189.52 325.86,188.03 326.05,188.03 326.05,189.52 326.24,189.52 326.24,191 326.44,191 326.44,189.52 326.82,189.52 326.82,188.03 327.01,188.03 327.01,189.52 327.2,189.52 327.2,188.03 327.58,188.03 327.58,189.52 327.77,189.52 327.77,191 327.96,191 327.96,183.59 328.15,183.59 328.15,186.55 328.35,186.55 328.35,189.52 328.73,189.52 328.73,186.55 328.92,186.55 328.92,191 329.11,191 329.11,188.03 329.3,188.03 329.3,191 329.49,191 329.49,189.52 329.68,189.52 329.68,188.03 330.06,188.03 330.06,189.52 330.64,189.52 330.64,185.07 330.83,185.07 330.83,189.52 331.02,189.52 331.02,185.07 331.21,185.07 331.21,191 331.4,191 331.4,189.52 331.59,189.52 331.59,183.59 331.97,183.59 331.97,185.07 332.17,185.07 332.17,188.03 332.36,188.03 332.36,177.65 332.55,177.65 332.55,182.1 332.74,182.1 332.74,180.62 332.93,180.62 332.93,183.59 333.12,183.59 333.12,186.55 333.31,186.55 333.31,188.03 333.5,188.03 333.5,180.62 333.69,180.62 333.69,182.1 333.88,182.1 333.88,177.65 334.08,177.65 334.08,176.17 334.27,176.17 334.27,182.1 334.46,182.1 334.46,180.62 334.65,180.62 334.65,173.2 334.84,173.2 334.84,179.14 335.03,179.14 335.03,177.65 335.22,177.65 335.22,180.62 335.6,180.62 335.6,179.14 335.79,179.14 335.79,183.59 335.99,183.59 335.99,182.1 336.18,182.1 336.18,179.14 336.37,179.14 336.37,177.65 336.56,177.65 336.56,173.2 336.75,173.2 336.75,170.24 336.94,170.24 336.94,179.14 337.13,179.14 337.13,168.75 337.32,168.75 337.32,176.17 337.51,176.17 337.51,171.72 337.71,171.72 337.71,176.17 338.09,176.17 338.09,171.72 338.28,171.72 338.28,174.69 338.66,174.69 338.66,182.1 338.85,182.1 338.85,162.82 339.04,162.82 339.04,180.62 339.23,180.62 339.23,176.17 339.42,176.17 339.42,185.07 339.62,185.07 339.62,180.62 339.81,180.62 339.81,161.34 340,161.34 340,173.2 340.57,173.2 340.57,174.69 340.76,174.69 340.76,162.82 340.95,162.82 340.95,159.86 341.14,159.86 341.14,165.79 341.53,165.79 341.53,150.96 341.72,150.96 341.72,162.82 341.91,162.82 341.91,167.27 342.1,167.27 342.1,147.99 342.29,147.99 342.29,174.69 342.48,174.69 342.48,168.75 342.67,168.75 342.67,167.27 342.86,167.27 342.86,188.03 343.05,188.03 343.05,156.89 343.24,156.89 343.24,159.86 343.44,159.86 343.44,156.89 343.63,156.89 343.63,155.41 343.82,155.41 343.82,130.2 344.01,130.2 344.01,145.03 344.2,145.03 344.2,137.61 344.39,137.61 344.39,143.54 344.58,143.54 344.58,140.58 344.77,140.58 344.77,139.09 344.96,139.09 344.96,156.89 345.15,156.89 345.15,170.24 345.35,170.24 345.35,153.93 345.54,153.93 345.54,140.58 345.73,140.58 345.73,165.79 345.92,165.79 345.92,125.75 346.11,125.75 346.11,153.93 346.3,153.93 346.3,128.71 346.49,128.71 346.49,150.96 346.68,150.96 346.68,167.27 346.87,167.27 346.87,143.54 347.06,143.54 347.06,165.79 347.26,165.79 347.26,146.51 347.45,146.51 347.45,143.54 347.64,143.54 347.64,156.89 347.83,156.89 347.83,116.85 348.02,116.85 348.02,146.51 348.21,146.51 348.21,139.09 348.4,139.09 348.4,164.31 348.59,164.31 348.59,140.58 348.78,140.58 348.78,97.57 348.98,97.57 348.98,124.27 349.17,124.27 349.17,137.61 349.36,137.61 349.36,124.27 349.55,124.27 349.55,110.92 349.74,110.92 349.74,122.78 349.93,122.78 349.93,102.02 350.12,102.02 350.12,133.16 350.31,133.16 350.31,118.33 350.5,118.33 350.5,121.3 350.69,121.3 350.69,127.23 350.89,127.23 350.89,94.6 351.08,94.6 351.08,102.02 351.27,102.02 351.27,122.78 351.46,122.78 351.46,107.95 351.65,107.95 351.65,150.96 351.84,150.96 351.84,104.99 352.03,104.99 352.03,100.54 352.22,100.54 352.22,124.27 352.41,124.27 352.41,128.71 352.6,128.71 352.6,142.06 352.8,142.06 352.8,134.65 352.99,134.65 352.99,118.33 353.18,118.33 353.18,94.6 353.37,94.6 353.37,104.99 353.56,104.99 353.56,103.5 353.75,103.5 353.75,122.78 353.94,122.78 353.94,73.48 354.13,73.48 354.13,90.16 354.32,90.16 354.32,99.05 354.51,99.05 354.51,106.47 354.71,106.47 354.71,107.95 354.9,107.95 354.9,118.33 355.09,118.33 355.09,90.16 355.28,90.16 355.28,110.92 355.47,110.92 355.47,136.13 355.66,136.13 355.66,125.75 355.85,125.75 355.85,143.54 356.04,143.54 356.04,104.99 356.23,104.99 356.23,88.67 356.42,88.67 356.42,76.08 356.62,76.08 356.62,75.33 356.81,75.33 356.81,110.92 357,110.92 357,104.99 357.19,104.99 357.19,102.02 357.38,102.02 357.38,96.09 357.57,96.09 357.57,90.16 357.76,90.16 357.76,104.99 357.95,104.99 357.95,102.02 358.14,102.02 358.14,93.12 358.33,93.12 358.33,87.19 358.53,87.19 358.53,115.37 358.72,115.37 358.72,127.23 358.91,127.23 358.91,124.27 359.1,124.27 359.1,127.23 359.29,127.23 359.29,113.88 359.48,113.88 359.48,97.57 359.67,97.57 359.67,109.43 359.86,109.43 359.86,84.22 360.05,84.22 360.05,94.6 360.24,94.6 360.24,113.88 360.44,113.88 360.44,131.68 360.63,131.68 360.63,76.72 360.82,76.72 360.82,103.5 361.01,103.5 361.01,110.92 361.2,110.92 361.2,100.54 361.39,100.54 361.39,127.23 361.58,127.23 361.58,133.16 361.77,133.16 361.77,134.65 361.96,134.65 361.96,125.75 362.16,125.75 362.16,93.12 362.35,93.12 362.35,130.2 362.54,130.2 362.54,118.33 362.73,118.33 362.73,140.58 362.92,140.58 362.92,142.06 363.11,142.06 363.11,96.09 363.3,96.09 363.3,125.75 363.49,125.75 363.49,124.27 363.68,124.27 363.68,118.33 363.87,118.33 363.87,116.85 364.07,116.85 364.07,107.95 364.26,107.95 364.26,110.92 364.45,110.92 364.45,145.03 364.64,145.03 364.64,91.64 364.83,91.64 364.83,96.09 365.02,96.09 365.02,116.85 365.21,116.85 365.21,118.33 365.4,118.33 365.4,121.3 365.59,121.3 365.59,104.99 365.78,104.99 365.78,146.51 365.98,146.51 365.98,133.16 366.17,133.16 366.17,131.68 366.36,131.68 366.36,145.03 366.55,145.03 366.55,137.61 366.74,137.61 366.74,104.99 366.93,104.99 366.93,116.85 367.12,116.85 367.12,145.03 367.31,145.03 367.31,139.09 367.5,139.09 367.5,183.59 367.69,183.59 367.69,143.54 367.89,143.54 367.89,134.65 368.08,134.65 368.08,113.88 368.27,113.88 368.27,156.89 368.46,156.89 368.46,162.82 368.65,162.82 368.65,122.78 368.84,122.78 368.84,133.16 369.03,133.16 369.03,137.61 369.22,137.61 369.22,110.92 369.41,110.92 369.41,152.44 369.6,152.44 369.6,146.51 369.8,146.51 369.8,145.03 369.99,145.03 369.99,136.13 370.18,136.13 370.18,162.82 370.37,162.82 370.37,136.13 370.56,136.13 370.56,174.69 370.75,174.69 370.75,153.93 370.94,153.93 370.94,118.33 371.13,118.33 371.13,171.72 371.32,171.72 371.32,147.99 371.51,147.99 371.51,149.48 371.9,149.48 371.9,161.34 372.09,161.34 372.09,162.82 372.28,162.82 372.28,150.96 372.47,150.96 372.47,142.06 372.66,142.06 372.66,156.89 372.85,156.89 372.85,149.48 373.04,149.48 373.04,162.82 373.23,162.82 373.23,155.41 373.43,155.41 373.43,159.86 373.62,159.86 373.62,153.93 373.81,153.93 373.81,176.17 374,176.17 374,174.69 374.19,174.69 374.19,149.48 374.38,149.48 374.38,168.75 374.57,168.75 374.57,167.27 374.76,167.27 374.76,170.24 374.95,170.24 374.95,177.65 375.14,177.65 375.14,168.75 375.72,168.75 375.72,174.69 375.91,174.69 375.91,171.72 376.1,171.72 376.1,164.31 376.29,164.31 376.29,176.17 376.48,176.17 376.48,168.75 376.67,168.75 376.67,174.69 376.86,174.69 376.86,185.07 377.05,185.07 377.05,182.1 377.25,182.1 377.25,180.62 377.44,180.62 377.44,177.65 377.63,177.65 377.63,173.2 377.82,173.2 377.82,182.1 378.01,182.1 378.01,170.24 378.2,170.24 378.2,183.59 378.39,183.59 378.39,177.65 378.58,177.65 378.58,176.17 378.77,176.17 378.77,182.1 378.96,182.1 378.96,162.82 379.16,162.82 379.16,182.1 379.35,182.1 379.35,174.69 379.73,174.69 379.73,176.17 379.92,176.17 379.92,177.65 380.11,177.65 380.11,180.62 380.3,180.62 380.3,171.72 380.49,171.72 380.49,191 380.68,191 380.68,186.55 380.87,186.55 380.87,179.14 381.07,179.14 381.07,188.03 381.26,188.03 381.26,183.59 381.45,183.59 381.45,188.03 381.64,188.03 381.64,176.17 382.02,176.17 382.02,186.55 382.21,186.55 382.21,180.62 382.4,180.62 382.4,182.1 382.59,182.1 382.59,179.14 382.78,179.14 382.78,186.55 382.98,186.55 382.98,180.62 383.17,180.62 383.17,177.65 383.36,177.65 383.36,186.55 383.93,186.55 383.93,188.03 384.12,188.03 384.12,189.52 384.31,189.52 384.31,186.55 384.5,186.55 384.5,183.59 384.69,183.59 384.69,186.55 384.89,186.55 384.89,189.52 385.08,189.52 385.08,186.55 385.27,186.55 385.27,185.07 385.46,185.07 385.46,189.52 385.65,189.52 385.65,185.07 385.84,185.07 385.84,188.03 386.03,188.03 386.03,191 386.22,191 386.22,186.55 386.61,186.55 386.61,191 386.8,191 386.8,188.03 386.99,188.03 386.99,185.07 387.18,185.07 387.18,188.03 387.56,188.03 387.56,186.55 387.75,186.55 387.75,191 387.94,191 387.94,186.55 388.13,186.55 388.13,189.52 388.52,189.52 388.52,188.03 388.71,188.03 388.71,189.52 388.9,189.52 388.9,188.03 389.09,188.03 389.09,191 389.28,191 389.28,186.55 389.47,186.55 389.47,191 389.66,191 389.66,188.03 390.04,188.03 390.04,183.59 390.23,183.59 390.23,191 390.62,191 390.62,189.52 390.81,189.52 390.81,191 391.57,191 391.57,188.03 391.76,188.03 391.76,189.52 391.95,189.52 391.95,191 392.34,191 392.34,189.52 392.53,189.52 392.53,191 392.72,191 392.72,189.52 392.91,189.52 392.91,191 393.1,191 393.1,189.52 393.29,189.52 393.29,191 393.48,191 393.48,189.52 394.25,189.52 394.25,188.03 394.63,188.03 394.63,191 395.2,191 395.2,189.52 395.39,189.52 395.39,186.55 395.58,186.55 395.58,188.03 395.77,188.03 395.77,191 396.16,191 396.16,189.52 396.54,189.52 396.54,191 396.92,191 396.92,186.55 397.11,186.55 397.11,191 397.3,191 397.3,188.03 397.49,188.03 397.49,191 397.88,191 397.88,188.03 398.07,188.03 398.07,189.52 398.26,189.52 398.26,191 398.83,191 398.83,189.52 399.02,189.52 399.02,191 399.21,191 399.21,189.52 399.4,189.52 399.4,191 399.79,191 399.79,189.52 399.98,189.52 399.98,191 400.17,191 400.17,188.03 400.36,188.03 400.36,191 400.55,191 400.55,188.03 400.74,188.03 400.74,189.52 400.93,189.52 400.93,191 403.22,191 403.22,189.52 403.61,189.52 403.61,191 403.99,191 403.99,189.52 404.18,189.52 404.18,191 405.32,191 405.32,189.52 405.52,189.52 405.52,188.03 405.71,188.03 405.71,189.52 405.9,189.52 405.9,191 406.09,191 406.09,189.52 406.28,189.52 406.28,191 406.85,191 406.85,188.03 407.04,188.03 407.04,189.52 407.23,189.52 407.23,191 410.1,191 410.1,189.52 410.29,189.52 410.29,191 410.86,191 410.86,189.52 411.06,189.52 411.06,191 411.44,191 411.44,189.52 411.63,189.52 411.63,191 412.01,191 412.01,189.52 412.2,189.52 412.2,191 412.77,191 412.77,189.52 412.97,189.52 412.97,191 413.16,191 413.16,189.52 413.35,189.52 413.35,191 414.49,191 414.49,189.52 414.68,189.52 414.68,191 415.26,191 415.26,189.52 415.45,189.52 415.45,191 416.21,191 416.21,189.52 416.4,189.52 416.4,191 417.74,191 417.74,188.03 417.93,188.03 417.93,191 418.12,191 418.12,189.52 418.31,189.52 418.31,191 420.8,191 420.8,189.52 420.99,189.52 420.99,191 425.76,191 425.76,189.52 425.95,189.52 425.95,191 427.1,191 427.1,189.52 427.29,189.52 427.29,191 428.25,191 428.25,189.52 428.44,189.52 428.44,191 429.97,191 429.97,189.52 430.16,189.52 430.16,191 430.54,191 430.54,189.52 430.73,189.52 430.73,191 433.98,191 433.98,189.52 434.17,189.52 434.17,191 434.74,191 434.74,189.52 434.93,189.52 434.93,191 436.27,191 436.27,189.52 436.46,189.52 436.46,191 440.66,191 440.66,189.52 440.85,189.52 440.85,191 442.38,191 442.38,188.03 442.57,188.03 442.57,191 446.01,191 446.01,189.52 446.2,189.52 446.2,191 449.45,191 449.45,189.52 449.64,189.52 449.64,191 456.9,191 456.9,189.52 457.09,189.52 457.09,191 458.62,191 458.62,189.52 458.81,189.52 458.81,191 507.9,191" fill="none" stroke="#3250be" stroke-width="1.2" stroke-linejoin="round" />
<line x1="312.3" y1="13" x2="508" y2="13" stroke="#222" stroke-width="1.4" />
<line x1="508" y1="13" x2="508" y2="191" stroke="#222" stroke-width="1.4" />
<line x1="312.3" y1="12.5" x2="312.3" y2="191.8" stroke="#111" stroke-width="1.7" />
<line x1="310.1" y1="191" x2="312.3" y2="191" stroke="#111" stroke-width="1.0" />
<line x1="310.1" y1="185.07" x2="312.3" y2="185.07" stroke="#111" stroke-width="1.0" />
<line x1="310.1" y1="179.14" x2="312.3" y2="179.14" stroke="#111" stroke-width="1.0" />
<line x1="310.1" y1="173.2" x2="312.3" y2="173.2" stroke="#111" stroke-width="1.0" />
<line x1="310.1" y1="167.27" x2="312.3" y2="167.27" stroke="#111" stroke-width="1.0" />
<line x1="310.1" y1="161.34" x2="312.3" y2="161.34" stroke="#111" stroke-width="1.0" />
<line x1="310.1" y1="155.41" x2="312.3" y2="155.41" stroke="#111" stroke-width="1.0" />
<line x1="310.1" y1="149.48" x2="312.3" y2="149.48" stroke="#111" stroke-width="1.0" />
<line x1="310.1" y1="143.54" x2="312.3" y2="143.54" stroke="#111" stroke-width="1.0" />
<line x1="310.1" y1="137.61" x2="312.3" y2="137.61" stroke="#111" stroke-width="1.0" />
<line x1="310.1" y1="131.68" x2="312.3" y2="131.68" stroke="#111" stroke-width="1.0" />
<line x1="310.1" y1="125.75" x2="312.3" y2="125.75" stroke="#111" stroke-width="1.0" />
<line x1="310.1" y1="119.82" x2="312.3" y2="119.82" stroke="#111" stroke-width="1.0" />
<line x1="310.1" y1="113.88" x2="312.3" y2="113.88" stroke="#111" stroke-width="1.0" />
<line x1="310.1" y1="107.95" x2="312.3" y2="107.95" stroke="#111" stroke-width="1.0" />
<line x1="310.1" y1="102.02" x2="312.3" y2="102.02" stroke="#111" stroke-width="1.0" />
<line x1="310.1" y1="96.09" x2="312.3" y2="96.09" stroke="#111" stroke-width="1.0" />
<line x1="310.1" y1="90.16" x2="312.3" y2="90.16" stroke="#111" stroke-width="1.0" />
<line x1="310.1" y1="84.22" x2="312.3" y2="84.22" stroke="#111" stroke-width="1.0" />
<line x1="310.1" y1="78.29" x2="312.3" y2="78.29" stroke="#111" stroke-width="1.0" />
<line x1="310.1" y1="72.36" x2="312.3" y2="72.36" stroke="#111" stroke-width="1.0" />
<line x1="310.1" y1="66.43" x2="312.3" y2="66.43" stroke="#111" stroke-width="1.0" />
<line x1="310.1" y1="60.5" x2="312.3" y2="60.5" stroke="#111" stroke-width="1.0" />
<line x1="310.1" y1="54.56" x2="312.3" y2="54.56" stroke="#111" stroke-width="1.0" />
<line x1="310.1" y1="48.63" x2="312.3" y2="48.63" stroke="#111" stroke-width="1.0" />
<line x1="310.1" y1="42.7" x2="312.3" y2="42.7" stroke="#111" stroke-width="1.0" />
<line x1="310.1" y1="36.77" x2="312.3" y2="36.77" stroke="#111" stroke-width="1.0" />
<line x1="310.1" y1="30.84" x2="312.3" y2="30.84" stroke="#111" stroke-width="1.0" />
<line x1="310.1" y1="24.9" x2="312.3" y2="24.9" stroke="#111" stroke-width="1.0" />
<line x1="310.1" y1="18.97" x2="312.3" y2="18.97" stroke="#111" stroke-width="1.0" />
<line x1="310.1" y1="13.04" x2="312.3" y2="13.04" stroke="#111" stroke-width="1.0" />
<line x1="308.3" y1="191" x2="312.3" y2="191" stroke="#111" stroke-width="1.1" />
<text x="304.6" y="194.5" font-size="11" font-family='"Liberation Sans", sans-serif' fill="#000" stroke="#000" stroke-width="0.25" text-anchor="end" textLength="4.9" lengthAdjust="spacingAndGlyphs" >0</text>
<line x1="308.3" y1="161.34" x2="312.3" y2="161.34" stroke="#111" stroke-width="1.1" />
<text x="304.6" y="164.84" font-size="11" font-family='"Liberation Sans", sans-serif' fill="#000" stroke="#000" stroke-width="0.25" text-anchor="end" textLength="9.8" lengthAdjust="spacingAndGlyphs" >20</text>
<line x1="308.3" y1="131.68" x2="312.3" y2="131.68" stroke="#111" stroke-width="1.1" />
<text x="304.6" y="135.18" font-size="11" font-family='"Liberation Sans", sans-serif' fill="#000" stroke="#000" stroke-width="0.25" text-anchor="end" textLength="9.8" lengthAdjust="spacingAndGlyphs" >40</text>
<line x1="308.3" y1="102.02" x2="312.3" y2="102.02" stroke="#111" stroke-width="1.1" />
<text x="304.6" y="105.52" font-size="11" font-family='"Liberation Sans", sans-serif' fill="#000" stroke="#000" stroke-width="0.25" text-anchor="end" textLength="9.8" lengthAdjust="spacingAndGlyphs" >60</text>
<line x1="308.3" y1="72.36" x2="312.3" y2="72.36" stroke="#111" stroke-width="1.1" />
<text x="304.6" y="75.86" font-size="11" font-family='"Liberation Sans", sans-serif' fill="#000" stroke="#000" stroke-width="0.25" text-anchor="end" textLength="9.8" lengthAdjust="spacingAndGlyphs" >80</text>
<line x1="308.3" y1="42.7" x2="312.3" y2="42.7" stroke="#111" stroke-width="1.1" />
<text x="304.6" y="46.2" font-size="11" font-family='"Liberation Sans", sans-serif' fill="#000" stroke="#000" stroke-width="0.25" text-anchor="end" textLength="14.7" lengthAdjust="spacingAndGlyphs" >100</text>
<line x1="308.3" y1="13.04" x2="312.3" y2="13.04" stroke="#111" stroke-width="1.1" />
<text x="304.6" y="16.54" font-size="11" font-family='"Liberation Sans", sans-serif' fill="#000" stroke="#000" stroke-width="0.25" text-anchor="end" textLength="14.7" lengthAdjust="spacingAndGlyphs" >120</text>
<line x1="312.3" y1="191" x2="312.3" y2="194.5" stroke="#111" stroke-width="1.1" />
<text x="311.8" y="208.5" font-size="10.8" font-family='"Liberation Sans", sans-serif' fill="#000" stroke="#000" stroke-width="0.25" text-anchor="middle" textLength="9.4" lengthAdjust="spacingAndGlyphs" >10</text>
<text x="317.1" y="203.5" font-size="6" font-family='"Liberation Sans", sans-serif' fill="#000" >0</text>
<line x1="327.02" y1="191" x2="327.02" y2="193" stroke="#111" stroke-width="0.9" />
<line x1="335.63" y1="191" x2="335.63" y2="193" stroke="#111" stroke-width="0.9" />
<line x1="341.74" y1="191" x2="341.74" y2="193" stroke="#111" stroke-width="0.9" />
<line x1="346.48" y1="191" x2="346.48" y2="193" stroke="#111" stroke-width="0.9" />
<line x1="350.35" y1="191" x2="350.35" y2="193" stroke="#111" stroke-width="0.9" />
<line x1="353.63" y1="191" x2="353.63" y2="193" stroke="#111" stroke-width="0.9" />
<line x1="356.46" y1="191" x2="356.46" y2="193" stroke="#111" stroke-width="0.9" />
<line x1="358.96" y1="191" x2="358.96" y2="193" stroke="#111" stroke-width="0.9" />
<line x1="361.2" y1="191" x2="361.2" y2="194.5" stroke="#111" stroke-width="1.1" />
<text x="360.7" y="208.5" font-size="10.8" font-family='"Liberation Sans", sans-serif' fill="#000" stroke="#000" stroke-width="0.25" text-anchor="middle" textLength="9.4" lengthAdjust="spacingAndGlyphs" >10</text>
<text x="366" y="203.5" font-size="6" font-family='"Liberation Sans", sans-serif' fill="#000" >1</text>
<line x1="375.92" y1="191" x2="375.92" y2="193" stroke="#111" stroke-width="0.9" />
<line x1="384.53" y1="191" x2="384.53" y2="193" stroke="#111" stroke-width="0.9" />
<line x1="390.64" y1="191" x2="390.64" y2="193" stroke="#111" stroke-width="0.9" />
<line x1="395.38" y1="191" x2="395.38" y2="193" stroke="#111" stroke-width="0.9" />
<line x1="399.25" y1="191" x2="399.25" y2="193" stroke="#111" stroke-width="0.9" />
<line x1="402.53" y1="191" x2="402.53" y2="193" stroke="#111" stroke-width="0.9" />
<line x1="405.36" y1="191" x2="405.36" y2="193" stroke="#111" stroke-width="0.9" />
<line x1="407.86" y1="191" x2="407.86" y2="193" stroke="#111" stroke-width="0.9" />
<line x1="410.1" y1="191" x2="410.1" y2="194.5" stroke="#111" stroke-width="1.1" />
<text x="409.6" y="208.5" font-size="10.8" font-family='"Liberation Sans", sans-serif' fill="#000" stroke="#000" stroke-width="0.25" text-anchor="middle" textLength="9.4" lengthAdjust="spacingAndGlyphs" >10</text>
<text x="414.9" y="203.5" font-size="6" font-family='"Liberation Sans", sans-serif' fill="#000" >2</text>
<line x1="424.82" y1="191" x2="424.82" y2="193" stroke="#111" stroke-width="0.9" />
<line x1="433.43" y1="191" x2="433.43" y2="193" stroke="#111" stroke-width="0.9" />
<line x1="439.54" y1="191" x2="439.54" y2="193" stroke="#111" stroke-width="0.9" />
<line x1="444.28" y1="191" x2="444.28" y2="193" stroke="#111" stroke-width="0.9" />
<line x1="448.15" y1="191" x2="448.15" y2="193" stroke="#111" stroke-width="0.9" />
<line x1="451.43" y1="191" x2="451.43" y2="193" stroke="#111" stroke-width="0.9" />
<line x1="454.26" y1="191" x2="454.26" y2="193" stroke="#111" stroke-width="0.9" />
<line x1="456.76" y1="191" x2="456.76" y2="193" stroke="#111" stroke-width="0.9" />
<line x1="459" y1="191" x2="459" y2="194.5" stroke="#111" stroke-width="1.1" />
<text x="458.5" y="208.5" font-size="10.8" font-family='"Liberation Sans", sans-serif' fill="#000" stroke="#000" stroke-width="0.25" text-anchor="middle" textLength="9.4" lengthAdjust="spacingAndGlyphs" >10</text>
<text x="463.8" y="203.5" font-size="6" font-family='"Liberation Sans", sans-serif' fill="#000" >3</text>
<line x1="473.72" y1="191" x2="473.72" y2="193" stroke="#111" stroke-width="0.9" />
<line x1="482.33" y1="191" x2="482.33" y2="193" stroke="#111" stroke-width="0.9" />
<line x1="488.44" y1="191" x2="488.44" y2="193" stroke="#111" stroke-width="0.9" />
<line x1="493.18" y1="191" x2="493.18" y2="193" stroke="#111" stroke-width="0.9" />
<line x1="497.05" y1="191" x2="497.05" y2="193" stroke="#111" stroke-width="0.9" />
<line x1="500.33" y1="191" x2="500.33" y2="193" stroke="#111" stroke-width="0.9" />
<line x1="503.16" y1="191" x2="503.16" y2="193" stroke="#111" stroke-width="0.9" />
<line x1="505.66" y1="191" x2="505.66" y2="193" stroke="#111" stroke-width="0.9" />
<line x1="507.9" y1="191" x2="507.9" y2="194.5" stroke="#111" stroke-width="1.1" />
<text x="507.4" y="208.5" font-size="10.8" font-family='"Liberation Sans", sans-serif' fill="#000" stroke="#000" stroke-width="0.25" text-anchor="middle" textLength="9.4" lengthAdjust="spacingAndGlyphs" >10</text>
<text x="512.7" y="203.5" font-size="6" font-family='"Liberation Sans", sans-serif' fill="#000" >4</text>
<text x="278.5" y="107.4" font-size="10.8" font-family='"Liberation Sans", sans-serif' fill="#000" stroke="#000" stroke-width="0.25" text-anchor="middle" textLength="29" lengthAdjust="spacingAndGlyphs" transform="rotate(-90 278.5 107.4)" dominant-baseline="central">Count</text>
<text x="327.8" y="29.8" font-size="12" font-family='"Liberation Serif", serif' fill="#555" stroke="#555" stroke-width="0.3" >(b)</text>
<line x1="413.8" y1="33.3" x2="438.8" y2="33.3" stroke="#444" stroke-width="1.3" />
<text x="441.2" y="37.5" font-size="11.8" font-family='"Liberation Sans", sans-serif' fill="#000" stroke="#000" stroke-width="0.2" textLength="53.3" lengthAdjust="spacingAndGlyphs" >PBS control</text>
<line x1="413.8" y1="46.7" x2="438.8" y2="46.7" stroke="#f05040" stroke-width="1.3" />
<text x="441.2" y="50.9" font-size="11.8" font-family='"Liberation Sans", sans-serif' fill="#000" stroke="#000" stroke-width="0.2" textLength="51.5" lengthAdjust="spacingAndGlyphs" >FAR (+) KB</text>
<line x1="413.8" y1="60.1" x2="438.8" y2="60.1" stroke="#3a58c0" stroke-width="1.3" />
<text x="441.2" y="64.3" font-size="11.8" font-family='"Liberation Sans", sans-serif' fill="#000" stroke="#000" stroke-width="0.2" textLength="51.5" lengthAdjust="spacingAndGlyphs" >FAR (-)&#160; KB</text>
<text x="3" y="235.5" font-size="18.2" font-family='"Liberation Sans", sans-serif' fill="#000" stroke="#000" stroke-width="0.3" font-weight="bold" >C</text>
<line x1="47.6" y1="428.7" x2="237.5" y2="428.7" stroke="#888" stroke-width="1.4" />
<polyline points="57.23,428.7 57.42,428.7 57.42,427.23 57.6,427.23 57.6,428.7 63.12,428.7 63.12,427.23 63.3,427.23 63.3,428.7 67.9,428.7 67.9,427.23 68.09,427.23 68.09,428.7 71.77,428.7 71.77,427.23 71.95,427.23 71.95,428.7 72.32,428.7 72.32,425.76 72.5,425.76 72.5,428.7 72.69,428.7 72.69,427.23 72.87,427.23 72.87,428.7 73.42,428.7 73.42,427.23 73.61,427.23 73.61,425.76 73.79,425.76 73.79,427.23 73.97,427.23 73.97,428.7 74.71,428.7 74.71,427.23 74.89,427.23 74.89,428.7 75.08,428.7 75.08,427.23 76.18,427.23 76.18,428.7 76.37,428.7 76.37,427.23 76.55,427.23 76.55,428.7 76.73,428.7 76.73,422.83 76.92,422.83 76.92,428.7 77.1,428.7 77.1,427.23 77.29,427.23 77.29,425.76 77.47,425.76 77.47,424.3 77.65,424.3 77.65,425.76 77.84,425.76 77.84,428.7 78.02,428.7 78.02,422.83 78.21,422.83 78.21,427.23 78.39,427.23 78.39,425.76 78.76,425.76 78.76,427.23 78.94,427.23 78.94,425.76 79.13,425.76 79.13,427.23 79.31,427.23 79.31,425.76 79.49,425.76 79.49,427.23 79.68,427.23 79.68,428.7 79.86,428.7 79.86,425.76 80.23,425.76 80.23,428.7 80.41,428.7 80.41,424.3 80.6,424.3 80.6,419.89 80.78,419.89 80.78,427.23 81.15,427.23 81.15,428.7 81.33,428.7 81.33,422.83 81.52,422.83 81.52,427.23 81.7,427.23 81.7,419.89 81.89,419.89 81.89,427.23 82.07,427.23 82.07,422.83 82.25,422.83 82.25,418.42 82.44,418.42 82.44,421.36 82.62,421.36 82.62,422.83 82.99,422.83 82.99,425.76 83.17,425.76 83.17,414.02 83.36,414.02 83.36,424.3 83.91,424.3 83.91,421.36 84.09,421.36 84.09,424.3 84.28,424.3 84.28,427.23 84.46,427.23 84.46,419.89 84.64,419.89 84.64,425.76 84.83,425.76 84.83,409.62 85.01,409.62 85.01,425.76 85.2,425.76 85.2,418.42 85.56,418.42 85.56,424.3 85.75,424.3 85.75,416.96 85.93,416.96 85.93,427.23 86.12,427.23 86.12,415.49 86.3,415.49 86.3,416.96 86.48,416.96 86.48,411.08 87.04,411.08 87.04,412.55 87.4,412.55 87.4,411.08 87.59,411.08 87.59,419.89 87.77,419.89 87.77,418.42 88.14,418.42 88.14,414.02 88.32,414.02 88.32,408.15 88.51,408.15 88.51,406.68 88.69,406.68 88.69,414.02 88.88,414.02 88.88,406.68 89.06,406.68 89.06,416.96 89.43,416.96 89.43,411.08 89.61,411.08 89.61,403.74 89.8,403.74 89.8,412.55 89.98,412.55 89.98,405.21 90.16,405.21 90.16,403.74 90.35,403.74 90.35,406.68 90.72,406.68 90.72,411.08 90.9,411.08 90.9,421.36 91.08,421.36 91.08,396.4 91.27,396.4 91.27,415.49 91.45,415.49 91.45,403.74 91.64,403.74 91.64,396.4 91.82,396.4 91.82,392 92,392 92,396.4 92.19,396.4 92.19,393.47 92.37,393.47 92.37,406.68 92.56,406.68 92.56,400.81 92.74,400.81 92.74,394.94 92.92,394.94 92.92,396.4 93.11,396.4 93.11,394.94 93.29,394.94 93.29,390.53 93.48,390.53 93.48,418.42 93.66,418.42 93.66,399.34 93.84,399.34 93.84,383.19 94.03,383.19 94.03,393.47 94.21,393.47 94.21,400.81 94.4,400.81 94.4,387.6 94.76,387.6 94.76,399.34 94.95,399.34 94.95,397.87 95.13,397.87 95.13,381.72 95.32,381.72 95.32,394.94 95.5,394.94 95.5,377.32 95.68,377.32 95.68,383.19 95.87,383.19 95.87,384.66 96.05,384.66 96.05,387.6 96.24,387.6 96.24,394.94 96.42,394.94 96.42,374.38 96.6,374.38 96.6,389.06 96.79,389.06 96.79,396.4 96.97,396.4 96.97,371.45 97.16,371.45 97.16,374.38 97.34,374.38 97.34,399.34 97.52,399.34 97.52,389.06 97.71,389.06 97.71,356.77 97.89,356.77 97.89,371.45 98.08,371.45 98.08,364.11 98.26,364.11 98.26,362.64 98.44,362.64 98.44,383.19 98.63,383.19 98.63,346.49 98.81,346.49 98.81,381.72 99,381.72 99,368.51 99.18,368.51 99.18,374.38 99.36,374.38 99.36,362.64 99.55,362.64 99.55,336.22 99.73,336.22 99.73,387.6 99.92,387.6 99.92,353.83 100.1,353.83 100.1,368.51 100.28,368.51 100.28,390.53 100.47,390.53 100.47,367.04 100.65,367.04 100.65,349.43 100.84,349.43 100.84,359.7 101.02,359.7 101.02,365.58 101.2,365.58 101.2,362.64 101.39,362.64 101.39,342.09 101.57,342.09 101.57,334.75 101.94,334.75 101.94,342.09 102.12,342.09 102.12,331.81 102.31,331.81 102.31,315.66 102.49,315.66 102.49,372.92 102.68,372.92 102.68,355.3 102.86,355.3 102.86,346.49 103.23,346.49 103.23,336.22 103.41,336.22 103.41,333.28 103.6,333.28 103.6,327.41 103.78,327.41 103.78,336.22 103.96,336.22 103.96,334.75 104.15,334.75 104.15,343.56 104.33,343.56 104.33,355.3 104.52,355.3 104.52,318.6 104.7,318.6 104.7,358.24 104.88,358.24 104.88,330.34 105.07,330.34 105.07,324.47 105.25,324.47 105.25,356.77 105.44,356.77 105.44,362.64 105.62,362.64 105.62,364.11 105.8,364.11 105.8,339.15 105.99,339.15 105.99,353.83 106.17,353.83 106.17,323 106.54,323 106.54,371.45 106.72,371.45 106.72,309.77 106.91,309.77 106.91,349.43 107.09,349.43 107.09,346.49 107.28,346.49 107.28,359.7 107.46,359.7 107.46,324.47 107.64,324.47 107.64,349.43 107.83,349.43 107.83,362.64 108.01,362.64 108.01,353.83 108.19,353.83 108.19,336.22 108.38,336.22 108.38,333.28 108.56,333.28 108.56,343.56 108.75,343.56 108.75,327.41 108.93,327.41 108.93,356.77 109.11,356.77 109.11,340.62 109.3,340.62 109.3,310.46 109.48,310.46 109.48,347.96 109.67,347.96 109.67,343.56 109.85,343.56 109.85,349.43 110.03,349.43 110.03,347.96 110.22,347.96 110.22,339.15 110.4,339.15 110.4,349.43 110.59,349.43 110.59,375.85 110.77,375.85 110.77,353.83 110.95,353.83 110.95,343.56 111.14,343.56 111.14,359.7 111.32,359.7 111.32,365.58 111.51,365.58 111.51,361.17 111.69,361.17 111.69,353.83 111.87,353.83 111.87,358.24 112.06,358.24 112.06,369.98 112.24,369.98 112.24,365.58 112.43,365.58 112.43,347.96 112.61,347.96 112.61,378.79 112.79,378.79 112.79,364.11 112.98,364.11 112.98,334.75 113.16,334.75 113.16,380.26 113.35,380.26 113.35,353.83 113.53,353.83 113.53,381.72 113.71,381.72 113.71,364.11 113.9,364.11 113.9,347.96 114.08,347.96 114.08,358.24 114.27,358.24 114.27,393.47 114.45,393.47 114.45,386.13 114.63,386.13 114.63,390.53 114.82,390.53 114.82,365.58 115,365.58 115,368.51 115.19,368.51 115.19,380.26 115.37,380.26 115.37,396.4 115.55,396.4 115.55,377.32 115.74,377.32 115.74,369.98 115.92,369.98 115.92,381.72 116.11,381.72 116.11,390.53 116.29,390.53 116.29,377.32 116.47,377.32 116.47,405.21 116.66,405.21 116.66,378.79 116.84,378.79 116.84,392 117.03,392 117.03,389.06 117.21,389.06 117.21,381.72 117.39,381.72 117.39,380.26 117.58,380.26 117.58,386.13 117.76,386.13 117.76,402.28 118.13,402.28 118.13,396.4 118.31,396.4 118.31,390.53 118.5,390.53 118.5,392 118.68,392 118.68,400.81 118.87,400.81 118.87,415.49 119.05,415.49 119.05,393.47 119.42,393.47 119.42,399.34 119.6,399.34 119.6,408.15 119.79,408.15 119.79,392 119.97,392 119.97,402.28 120.15,402.28 120.15,408.15 120.34,408.15 120.34,394.94 120.52,394.94 120.52,406.68 120.71,406.68 120.71,418.42 120.89,418.42 120.89,414.02 121.07,414.02 121.07,408.15 121.26,408.15 121.26,412.55 121.44,412.55 121.44,406.68 121.63,406.68 121.63,412.55 121.81,412.55 121.81,406.68 121.99,406.68 121.99,409.62 122.18,409.62 122.18,406.68 122.36,406.68 122.36,412.55 122.55,412.55 122.55,403.74 122.73,403.74 122.73,416.96 122.91,416.96 122.91,414.02 123.28,414.02 123.28,409.62 123.47,409.62 123.47,400.81 123.65,400.81 123.65,421.36 123.83,421.36 123.83,409.62 124.02,409.62 124.02,419.89 124.2,419.89 124.2,414.02 124.39,414.02 124.39,412.55 124.57,412.55 124.57,416.96 124.94,416.96 124.94,412.55 125.12,412.55 125.12,416.96 125.31,416.96 125.31,424.3 125.49,424.3 125.49,425.76 125.67,425.76 125.67,422.83 126.04,422.83 126.04,427.23 126.41,427.23 126.41,418.42 126.59,418.42 126.59,416.96 126.78,416.96 126.78,415.49 126.96,415.49 126.96,425.76 127.15,425.76 127.15,419.89 127.33,419.89 127.33,422.83 127.51,422.83 127.51,421.36 127.7,421.36 127.7,418.42 127.88,418.42 127.88,421.36 128.07,421.36 128.07,419.89 128.25,419.89 128.25,425.76 128.43,425.76 128.43,414.02 128.62,414.02 128.62,424.3 128.8,424.3 128.8,422.83 128.99,422.83 128.99,428.7 129.17,428.7 129.17,418.42 129.35,418.42 129.35,424.3 129.54,424.3 129.54,425.76 129.72,425.76 129.72,421.36 129.91,421.36 129.91,427.23 130.09,427.23 130.09,424.3 130.27,424.3 130.27,427.23 130.46,427.23 130.46,425.76 130.82,425.76 130.82,422.83 131.01,422.83 131.01,428.7 131.19,428.7 131.19,427.23 131.38,427.23 131.38,425.76 131.56,425.76 131.56,427.23 131.74,427.23 131.74,425.76 132.11,425.76 132.11,424.3 132.3,424.3 132.3,425.76 133.03,425.76 133.03,427.23 133.22,427.23 133.22,424.3 133.4,424.3 133.4,422.83 133.58,422.83 133.58,424.3 133.77,424.3 133.77,427.23 133.95,427.23 133.95,428.7 134.14,428.7 134.14,422.83 134.32,422.83 134.32,427.23 134.5,427.23 134.5,428.7 134.69,428.7 134.69,427.23 134.87,427.23 134.87,428.7 135.61,428.7 135.61,427.23 135.79,427.23 135.79,428.7 135.98,428.7 135.98,427.23 136.34,427.23 136.34,428.7 136.53,428.7 136.53,425.76 136.71,425.76 136.71,427.23 137.08,427.23 137.08,428.7 138.37,428.7 138.37,427.23 138.55,427.23 138.55,428.7 138.74,428.7 138.74,427.23 138.92,427.23 138.92,428.7 139.29,428.7 139.29,427.23 139.66,427.23 139.66,428.7 140.76,428.7 140.76,427.23 141.13,427.23 141.13,428.7 141.86,428.7 141.86,427.23 142.05,427.23 142.05,428.7 142.6,428.7 142.6,427.23 142.78,427.23 142.78,428.7 143.7,428.7 143.7,427.23 143.89,427.23 143.89,428.7 144.62,428.7 144.62,425.76 144.81,425.76 144.81,427.23 144.99,427.23 144.99,428.7 145.91,428.7 145.91,427.23 146.1,427.23 146.1,428.7 146.65,428.7 146.65,427.23 146.83,427.23 146.83,428.7 148.12,428.7 148.12,427.23 148.3,427.23 148.3,428.7 148.49,428.7 148.49,427.23 148.67,427.23 148.67,428.7 148.86,428.7 148.86,427.23 149.04,427.23 149.04,428.7 149.22,428.7 149.22,427.23 149.59,427.23 149.59,428.7 150.14,428.7 150.14,427.23 150.33,427.23 150.33,428.7 151.8,428.7 151.8,427.23 151.98,427.23 151.98,428.7 152.17,428.7 152.17,427.23 152.35,427.23 152.35,428.7 153.82,428.7 153.82,427.23 154.01,427.23 154.01,428.7 156.77,428.7 156.77,427.23 156.95,427.23 156.95,428.7 157.69,428.7 157.69,427.23 158.05,427.23 158.05,428.7 158.79,428.7 158.79,427.23 158.97,427.23 158.97,428.7 159.71,428.7 159.71,427.23 160.08,427.23 160.08,428.7 163.02,428.7 163.02,427.23 163.39,427.23 163.39,428.7 172.04,428.7 172.04,427.23 172.22,427.23 172.22,428.7 181.05,428.7 181.05,427.23 181.24,427.23 181.24,428.7 187.86,428.7 187.86,427.23 188.04,427.23 188.04,428.7 192.28,428.7 192.28,427.23 192.46,427.23 192.46,428.7 193.56,428.7 193.56,427.23 193.75,427.23 193.75,428.7 196.51,428.7 196.51,427.23 196.69,427.23 196.69,428.7 199.64,428.7 199.64,427.23 199.82,427.23 199.82,428.7 200,428.7" fill="none" stroke="#f03020" stroke-width="1.2" stroke-linejoin="round" />
<polyline points="51.34,428.7 51.53,428.7 51.53,427.23 51.71,427.23 51.71,428.7 52.08,428.7 52.08,427.23 52.82,427.23 52.82,428.7 53.92,428.7 53.92,427.23 54.29,427.23 54.29,428.7 55.02,428.7 55.02,425.76 55.21,425.76 55.21,428.7 55.39,428.7 55.39,427.23 55.58,427.23 55.58,428.7 55.76,428.7 55.76,427.23 55.94,427.23 55.94,428.7 56.13,428.7 56.13,425.76 56.31,425.76 56.31,424.3 56.5,424.3 56.5,427.23 57.05,427.23 57.05,428.7 57.23,428.7 57.23,425.76 57.42,425.76 57.42,427.23 57.6,427.23 57.6,425.76 57.97,425.76 57.97,428.7 58.52,428.7 58.52,427.23 58.89,427.23 58.89,422.83 59.07,422.83 59.07,425.76 59.26,425.76 59.26,427.23 59.44,427.23 59.44,428.7 59.62,428.7 59.62,421.36 59.81,421.36 59.81,425.76 59.99,425.76 59.99,427.23 60.17,427.23 60.17,428.7 60.36,428.7 60.36,425.76 60.54,425.76 60.54,419.89 60.73,419.89 60.73,425.76 61.09,425.76 61.09,427.23 61.28,427.23 61.28,424.3 61.65,424.3 61.65,425.76 62.01,425.76 62.01,424.3 62.2,424.3 62.2,416.96 62.38,416.96 62.38,422.83 62.57,422.83 62.57,428.7 62.75,428.7 62.75,424.3 62.93,424.3 62.93,422.83 63.12,422.83 63.12,424.3 63.3,424.3 63.3,416.96 63.49,416.96 63.49,427.23 63.67,427.23 63.67,415.49 64.04,415.49 64.04,412.55 64.22,412.55 64.22,414.02 64.59,414.02 64.59,419.89 64.77,419.89 64.77,409.62 64.96,409.62 64.96,402.28 65.14,402.28 65.14,409.62 65.33,409.62 65.33,424.3 65.51,424.3 65.51,411.08 65.69,411.08 65.69,409.62 66.06,409.62 66.06,411.08 66.25,411.08 66.25,403.74 66.43,403.74 66.43,399.34 66.61,399.34 66.61,415.49 66.8,415.49 66.8,411.08 66.98,411.08 66.98,416.96 67.17,416.96 67.17,402.28 67.35,402.28 67.35,405.21 67.72,405.21 67.72,400.81 67.9,400.81 67.9,405.21 68.09,405.21 68.09,400.81 68.27,400.81 68.27,399.34 68.45,399.34 68.45,393.47 68.64,393.47 68.64,403.74 68.82,403.74 68.82,414.02 69.01,414.02 69.01,381.72 69.19,381.72 69.19,399.34 69.37,399.34 69.37,390.53 69.56,390.53 69.56,405.21 69.74,405.21 69.74,390.53 70.11,390.53 70.11,405.21 70.29,405.21 70.29,381.72 70.48,381.72 70.48,389.06 70.66,389.06 70.66,390.53 70.85,390.53 70.85,402.28 71.03,402.28 71.03,394.94 71.21,394.94 71.21,390.53 71.4,390.53 71.4,386.13 71.58,386.13 71.58,368.51 71.77,368.51 71.77,387.6 71.95,387.6 71.95,389.06 72.13,389.06 72.13,372.92 72.32,372.92 72.32,402.28 72.5,402.28 72.5,375.85 72.69,375.85 72.69,378.79 72.87,378.79 72.87,365.58 73.05,365.58 73.05,380.26 73.24,380.26 73.24,365.58 73.42,365.58 73.42,356.77 73.61,356.77 73.61,396.4 73.79,396.4 73.79,380.26 73.97,380.26 73.97,393.47 74.16,393.47 74.16,350.9 74.34,350.9 74.34,386.13 74.53,386.13 74.53,367.04 74.71,367.04 74.71,365.58 74.89,365.58 74.89,380.26 75.08,380.26 75.08,399.34 75.26,399.34 75.26,355.3 75.45,355.3 75.45,377.32 75.63,377.32 75.63,324.47 75.81,324.47 75.81,342.09 76,342.09 76,359.7 76.37,359.7 76.37,380.26 76.55,380.26 76.55,346.49 76.73,346.49 76.73,374.38 76.92,374.38 76.92,355.3 77.1,355.3 77.1,372.92 77.29,372.92 77.29,350.9 77.47,350.9 77.47,361.17 77.65,361.17 77.65,342.09 77.84,342.09 77.84,320.07 78.02,320.07 78.02,336.22 78.21,336.22 78.21,309.79 78.39,309.79 78.39,334.75 78.57,334.75 78.57,340.62 78.76,340.62 78.76,380.26 78.94,380.26 78.94,328.88 79.13,328.88 79.13,321.54 79.31,321.54 79.31,361.17 79.49,361.17 79.49,324.47 79.68,324.47 79.68,336.22 79.86,336.22 79.86,321.54 80.05,321.54 80.05,296.58 80.23,296.58 80.23,320.07 80.41,320.07 80.41,350.9 80.6,350.9 80.6,308.32 80.78,308.32 80.78,355.3 80.97,355.3 80.97,358.24 81.15,358.24 81.15,343.56 81.33,343.56 81.33,290.71 81.52,290.71 81.52,340.62 81.7,340.62 81.7,321.54 81.89,321.54 81.89,343.56 82.07,343.56 82.07,323 82.25,323 82.25,340.62 82.44,340.62 82.44,283.52 82.62,283.52 82.62,347.96 82.81,347.96 82.81,334.75 82.99,334.75 82.99,346.49 83.17,346.49 83.17,324.47 83.36,324.47 83.36,337.68 83.54,337.68 83.54,340.62 83.72,340.62 83.72,314.2 83.91,314.2 83.91,328.88 84.09,328.88 84.09,323 84.28,323 84.28,314.2 84.46,314.2 84.46,355.3 84.64,355.3 84.64,346.49 84.83,346.49 84.83,356.77 85.01,356.77 85.01,305.39 85.2,305.39 85.2,311.26 85.38,311.26 85.38,330.34 85.56,330.34 85.56,331.81 85.75,331.81 85.75,361.17 85.93,361.17 85.93,323 86.3,323 86.3,328.88 86.48,328.88 86.48,347.96 86.85,347.96 86.85,359.7 87.04,359.7 87.04,342.09 87.4,342.09 87.4,334.75 87.59,334.75 87.59,328.88 87.77,328.88 87.77,358.24 87.96,358.24 87.96,330.34 88.14,330.34 88.14,315.66 88.32,315.66 88.32,378.79 88.51,378.79 88.51,347.96 88.69,347.96 88.69,339.15 88.88,339.15 88.88,371.45 89.06,371.45 89.06,378.79 89.24,378.79 89.24,365.58 89.43,365.58 89.43,352.36 89.61,352.36 89.61,337.68 89.8,337.68 89.8,343.56 89.98,343.56 89.98,352.36 90.16,352.36 90.16,364.11 90.35,364.11 90.35,333.28 90.53,333.28 90.53,345.02 90.72,345.02 90.72,356.77 90.9,356.77 90.9,328.88 91.08,328.88 91.08,367.04 91.27,367.04 91.27,347.96 91.45,347.96 91.45,345.02 91.64,345.02 91.64,339.15 91.82,339.15 91.82,383.19 92,383.19 92,356.77 92.19,356.77 92.19,399.34 92.37,399.34 92.37,374.38 92.56,374.38 92.56,359.7 92.74,359.7 92.74,342.09 92.92,342.09 92.92,377.32 93.11,377.32 93.11,380.26 93.29,380.26 93.29,374.38 93.48,374.38 93.48,372.92 93.66,372.92 93.66,389.06 93.84,389.06 93.84,402.28 94.03,402.28 94.03,375.85 94.21,375.85 94.21,371.45 94.4,371.45 94.4,396.4 94.58,396.4 94.58,392 94.76,392 94.76,399.34 94.95,399.34 94.95,389.06 95.13,389.06 95.13,393.47 95.32,393.47 95.32,377.32 95.5,377.32 95.5,387.6 95.68,387.6 95.68,394.94 95.87,394.94 95.87,387.6 96.05,387.6 96.05,393.47 96.24,393.47 96.24,386.13 96.42,386.13 96.42,394.94 96.6,394.94 96.6,389.06 96.79,389.06 96.79,378.79 96.97,378.79 96.97,393.47 97.16,393.47 97.16,400.81 97.34,400.81 97.34,387.6 97.52,387.6 97.52,392 97.71,392 97.71,400.81 97.89,400.81 97.89,403.74 98.08,403.74 98.08,402.28 98.26,402.28 98.26,406.68 98.44,406.68 98.44,422.83 98.63,422.83 98.63,406.68 98.81,406.68 98.81,409.62 99,409.62 99,416.96 99.18,416.96 99.18,402.28 99.36,402.28 99.36,405.21 99.55,405.21 99.55,412.55 99.73,412.55 99.73,414.02 99.92,414.02 99.92,418.42 100.1,418.42 100.1,416.96 100.47,416.96 100.47,405.21 100.65,405.21 100.65,421.36 100.84,421.36 100.84,406.68 101.02,406.68 101.02,411.08 101.2,411.08 101.2,424.3 101.39,424.3 101.39,408.15 101.57,408.15 101.57,419.89 101.76,419.89 101.76,425.76 101.94,425.76 101.94,421.36 102.12,421.36 102.12,416.96 102.31,416.96 102.31,418.42 102.49,418.42 102.49,422.83 102.68,422.83 102.68,421.36 102.86,421.36 102.86,419.89 103.04,419.89 103.04,422.83 103.23,422.83 103.23,419.89 103.41,419.89 103.41,418.42 103.6,418.42 103.6,424.3 103.78,424.3 103.78,418.42 103.96,418.42 103.96,421.36 104.15,421.36 104.15,424.3 104.33,424.3 104.33,416.96 104.52,416.96 104.52,419.89 104.7,419.89 104.7,418.42 104.88,418.42 104.88,425.76 105.25,425.76 105.25,422.83 105.44,422.83 105.44,425.76 105.8,425.76 105.8,428.7 105.99,428.7 105.99,425.76 106.17,425.76 106.17,427.23 106.36,427.23 106.36,425.76 106.54,425.76 106.54,421.36 106.72,421.36 106.72,428.7 106.91,428.7 106.91,427.23 107.28,427.23 107.28,425.76 107.64,425.76 107.64,428.7 107.83,428.7 107.83,427.23 108.01,427.23 108.01,424.3 108.19,424.3 108.19,425.76 108.38,425.76 108.38,427.23 108.56,427.23 108.56,428.7 108.93,428.7 108.93,427.23 109.11,427.23 109.11,428.7 109.48,428.7 109.48,427.23 109.85,427.23 109.85,428.7 110.03,428.7 110.03,425.76 110.22,425.76 110.22,428.7 110.59,428.7 110.59,425.76 110.77,425.76 110.77,428.7 111.14,428.7 111.14,427.23 111.32,427.23 111.32,428.7 111.87,428.7 111.87,427.23 112.06,427.23 112.06,428.7 112.24,428.7 112.24,427.23 112.43,427.23 112.43,428.7 112.61,428.7 112.61,427.23 112.79,427.23 112.79,428.7 112.98,428.7" fill="none" stroke="#111" stroke-width="1.2" stroke-linejoin="round" />
<polyline points="82.8,314.2 82.8,271.62 83.2,271.62 83.2,308.32" fill="none" stroke="#111" stroke-width="0.9" stroke-linejoin="round" />
<polyline points="48.4,428.7 48.4,427.23 48.58,427.23 48.58,425.76 48.95,425.76 48.95,427.23 49.32,427.23 49.32,425.76 49.5,425.76 49.5,427.23 49.69,427.23 49.69,425.76 50.06,425.76 50.06,427.23 50.24,427.23 50.24,428.7 50.61,428.7 50.61,427.23 50.79,427.23 50.79,428.7 50.98,428.7 50.98,421.36 51.16,421.36 51.16,427.23 51.34,427.23 51.34,425.76 51.53,425.76 51.53,427.23 51.71,427.23 51.71,425.76 51.9,425.76 51.9,422.83 52.08,422.83 52.08,428.7 52.26,428.7 52.26,427.23 52.45,427.23 52.45,424.3 52.63,424.3 52.63,425.76 52.82,425.76 52.82,422.83 53,422.83 53,425.76 53.18,425.76 53.18,427.23 53.55,427.23 53.55,425.76 53.74,425.76 53.74,424.3 54.1,424.3 54.1,421.36 54.29,421.36 54.29,428.7 54.47,428.7 54.47,424.3 54.66,424.3 54.66,425.76 54.84,425.76 54.84,427.23 55.02,427.23 55.02,425.76 55.21,425.76 55.21,424.3 55.58,424.3 55.58,422.83 55.76,422.83 55.76,428.7 55.94,428.7 55.94,424.3 56.13,424.3 56.13,422.83 56.31,422.83 56.31,424.3 56.5,424.3 56.5,425.76 56.68,425.76 56.68,419.89 56.86,419.89 56.86,427.23 57.05,427.23 57.05,419.89 57.42,419.89 57.42,422.83 57.6,422.83 57.6,419.89 57.78,419.89 57.78,421.36 57.97,421.36 57.97,414.02 58.15,414.02 58.15,422.83 58.34,422.83 58.34,424.3 58.52,424.3 58.52,419.89 58.7,419.89 58.7,418.42 58.89,418.42 58.89,424.3 59.07,424.3 59.07,415.49 59.26,415.49 59.26,418.42 59.62,418.42 59.62,415.49 59.81,415.49 59.81,411.08 59.99,411.08 59.99,424.3 60.17,424.3 60.17,412.55 60.36,412.55 60.36,415.49 60.54,415.49 60.54,411.08 60.91,411.08 60.91,402.28 61.09,402.28 61.09,424.3 61.28,424.3 61.28,422.83 61.46,422.83 61.46,409.62 61.65,409.62 61.65,406.68 61.83,406.68 61.83,415.49 62.01,415.49 62.01,412.55 62.38,412.55 62.38,394.94 62.57,394.94 62.57,414.02 62.75,414.02 62.75,408.15 62.93,408.15 62.93,415.49 63.12,415.49 63.12,406.68 63.3,406.68 63.3,409.62 63.49,409.62 63.49,405.21 63.67,405.21 63.67,394.94 63.85,394.94 63.85,412.55 64.04,412.55 64.04,418.42 64.22,418.42 64.22,399.34 64.41,399.34 64.41,414.02 64.59,414.02 64.59,411.08 64.77,411.08 64.77,406.68 64.96,406.68 64.96,403.74 65.14,403.74 65.14,405.21 65.33,405.21 65.33,400.81 65.51,400.81 65.51,409.62 65.69,409.62 65.69,406.68 65.88,406.68 65.88,397.87 66.06,397.87 66.06,403.74 66.25,403.74 66.25,392 66.43,392 66.43,408.15 66.61,408.15 66.61,394.94 66.98,394.94 66.98,408.15 67.17,408.15 67.17,397.87 67.35,397.87 67.35,393.47 67.53,393.47 67.53,384.66 67.72,384.66 67.72,394.94 67.9,394.94 67.9,405.21 68.09,405.21 68.09,402.28 68.27,402.28 68.27,411.08 68.45,411.08 68.45,380.26 68.64,380.26 68.64,387.6 68.82,387.6 68.82,389.06 69.01,389.06 69.01,381.72 69.19,381.72 69.19,384.66 69.37,384.66 69.37,365.58 69.56,365.58 69.56,389.06 69.74,389.06 69.74,394.94 70.11,394.94 70.11,383.19 70.29,383.19 70.29,406.68 70.48,406.68 70.48,369.98 70.66,369.98 70.66,387.6 70.85,387.6 70.85,378.79 71.03,378.79 71.03,411.08 71.21,411.08 71.21,381.72 71.4,381.72 71.4,377.32 71.58,377.32 71.58,358.24 71.77,358.24 71.77,369.98 71.95,369.98 71.95,362.64 72.13,362.64 72.13,365.58 72.32,365.58 72.32,378.79 72.5,378.79 72.5,392 72.69,392 72.69,396.4 72.87,396.4 72.87,377.32 73.05,377.32 73.05,374.38 73.24,374.38 73.24,371.45 73.42,371.45 73.42,345.02 73.61,345.02 73.61,349.43 73.79,349.43 73.79,362.64 73.97,362.64 73.97,368.51 74.16,368.51 74.16,374.38 74.34,374.38 74.34,345.02 74.53,345.02 74.53,369.98 74.89,369.98 74.89,346.49 75.08,346.49 75.08,349.43 75.26,349.43 75.26,365.58 75.45,365.58 75.45,347.96 75.63,347.96 75.63,393.47 75.81,393.47 75.81,336.22 76,336.22 76,352.36 76.18,352.36 76.18,371.45 76.37,371.45 76.37,358.24 76.55,358.24 76.55,364.11 76.73,364.11 76.73,352.36 76.92,352.36 76.92,356.77 77.1,356.77 77.1,331.81 77.29,331.81 77.29,371.45 77.47,371.45 77.47,362.64 77.84,362.64 77.84,353.83 78.02,353.83 78.02,364.11 78.21,364.11 78.21,375.85 78.39,375.85 78.39,325.94 78.57,325.94 78.57,356.77 78.76,356.77 78.76,365.58 78.94,365.58 78.94,372.92 79.13,372.92 79.13,358.24 79.31,358.24 79.31,346.49 79.49,346.49 79.49,345.02 79.68,345.02 79.68,349.43 79.86,349.43 79.86,347.96 80.05,347.96 80.05,337.68 80.23,337.68 80.23,358.24 80.41,358.24 80.41,364.11 80.6,364.11 80.6,345.02 80.78,345.02 80.78,346.49 80.97,346.49 80.97,355.3 81.15,355.3 81.15,350.9 81.33,350.9 81.33,387.6 81.52,387.6 81.52,319.08 81.7,319.08 81.7,331.81 81.89,331.81 81.89,330.34 82.07,330.34 82.07,339.15 82.25,339.15 82.25,364.11 82.44,364.11 82.44,328.88 82.62,328.88 82.62,347.96 82.81,347.96 82.81,343.56 82.99,343.56 82.99,318.75 83.17,318.75 83.17,315.66 83.36,315.66 83.36,337.68 83.54,337.68 83.54,334.75 83.72,334.75 83.72,346.49 83.91,346.49 83.91,324.47 84.09,324.47 84.09,340.62 84.28,340.62 84.28,334.75 84.46,334.75 84.46,330.34 84.64,330.34 84.64,336.22 84.83,336.22 84.83,361.17 85.01,361.17 85.01,368.51 85.2,368.51 85.2,349.43 85.56,349.43 85.56,361.17 85.75,361.17 85.75,340.62 85.93,340.62 85.93,364.11 86.12,364.11 86.12,331.81 86.3,331.81 86.3,358.24 86.48,358.24 86.48,346.49 86.67,346.49 86.67,349.43 86.85,349.43 86.85,389.06 87.04,389.06 87.04,383.19 87.22,383.19 87.22,353.83 87.4,353.83 87.4,327.41 87.59,327.41 87.59,342.09 87.77,342.09 87.77,336.22 87.96,336.22 87.96,349.43 88.32,349.43 88.32,356.77 88.51,356.77 88.51,399.34 88.69,399.34 88.69,400.81 88.88,400.81 88.88,342.09 89.06,342.09 89.06,347.96 89.24,347.96 89.24,377.32 89.43,377.32 89.43,368.51 89.61,368.51 89.61,383.19 89.8,383.19 89.8,356.77 89.98,356.77 89.98,369.98 90.16,369.98 90.16,367.04 90.35,367.04 90.35,355.3 90.53,355.3 90.53,359.7 90.72,359.7 90.72,378.79 90.9,378.79 90.9,350.9 91.08,350.9 91.08,372.92 91.27,372.92 91.27,367.04 91.45,367.04 91.45,369.98 91.64,369.98 91.64,365.58 92,365.58 92,383.19 92.19,383.19 92.19,387.6 92.37,387.6 92.37,367.04 92.56,367.04 92.56,364.11 92.74,364.11 92.74,381.72 92.92,381.72 92.92,386.13 93.29,386.13 93.29,380.26 93.48,380.26 93.48,392 93.66,392 93.66,399.34 93.84,399.34 93.84,371.45 94.03,371.45 94.03,387.6 94.21,387.6 94.21,375.85 94.4,375.85 94.4,392 94.76,392 94.76,375.85 94.95,375.85 94.95,367.04 95.13,367.04 95.13,383.19 95.32,383.19 95.32,380.26 95.5,380.26 95.5,389.06 95.68,389.06 95.68,390.53 95.87,390.53 95.87,394.94 96.05,394.94 96.05,396.4 96.24,396.4 96.24,397.87 96.42,397.87 96.42,392 96.6,392 96.6,411.08 96.79,411.08 96.79,393.47 96.97,393.47 96.97,394.94 97.16,394.94 97.16,403.74 97.34,403.74 97.34,408.15 97.52,408.15 97.52,396.4 97.71,396.4 97.71,402.28 97.89,402.28 97.89,414.02 98.08,414.02 98.08,399.34 98.26,399.34 98.26,390.53 98.44,390.53 98.44,400.81 98.63,400.81 98.63,372.92 98.81,372.92 98.81,399.34 99,399.34 99,412.55 99.18,412.55 99.18,380.26 99.36,380.26 99.36,403.74 99.55,403.74 99.55,402.28 99.73,402.28 99.73,406.68 99.92,406.68 99.92,402.28 100.1,402.28 100.1,406.68 100.28,406.68 100.28,392 100.47,392 100.47,399.34 100.65,399.34 100.65,396.4 100.84,396.4 100.84,414.02 101.2,414.02 101.2,399.34 101.39,399.34 101.39,418.42 101.57,418.42 101.57,416.96 101.76,416.96 101.76,403.74 101.94,403.74 101.94,421.36 102.12,421.36 102.12,406.68 102.31,406.68 102.31,414.02 102.49,414.02 102.49,411.08 102.68,411.08 102.68,397.87 102.86,397.87 102.86,406.68 103.04,406.68 103.04,408.15 103.23,408.15 103.23,422.83 103.41,422.83 103.41,419.89 103.6,419.89 103.6,415.49 103.78,415.49 103.78,412.55 103.96,412.55 103.96,421.36 104.15,421.36 104.15,408.15 104.52,408.15 104.52,415.49 104.7,415.49 104.7,409.62 105.07,409.62 105.07,412.55 105.25,412.55 105.25,419.89 105.44,419.89 105.44,421.36 105.8,421.36 105.8,416.96 105.99,416.96 105.99,414.02 106.17,414.02 106.17,419.89 106.36,419.89 106.36,415.49 106.54,415.49 106.54,419.89 106.72,419.89 106.72,412.55 106.91,412.55 106.91,411.08 107.09,411.08 107.09,414.02 107.28,414.02 107.28,411.08 107.46,411.08 107.46,419.89 107.64,419.89 107.64,416.96 107.83,416.96 107.83,419.89 108.01,419.89 108.01,427.23 108.19,427.23 108.19,422.83 108.75,422.83 108.75,428.7 108.93,428.7 108.93,422.83 109.11,422.83 109.11,421.36 109.3,421.36 109.3,422.83 109.48,422.83 109.48,424.3 109.67,424.3 109.67,421.36 109.85,421.36 109.85,422.83 110.22,422.83 110.22,424.3 110.4,424.3 110.4,428.7 110.59,428.7 110.59,425.76 110.77,425.76 110.77,424.3 110.95,424.3 110.95,412.55 111.14,412.55 111.14,421.36 111.32,421.36 111.32,427.23 111.51,427.23 111.51,422.83 111.69,422.83 111.69,427.23 111.87,427.23 111.87,428.7 112.06,428.7 112.06,425.76 112.24,425.76 112.24,418.42 112.43,418.42 112.43,427.23 112.61,427.23 112.61,424.3 112.98,424.3 112.98,425.76 113.35,425.76 113.35,419.89 113.53,419.89 113.53,427.23 113.71,427.23 113.71,422.83 113.9,422.83 113.9,425.76 114.08,425.76 114.08,424.3 114.27,424.3 114.27,419.89 114.45,419.89 114.45,427.23 114.63,427.23 114.63,425.76 114.82,425.76 114.82,427.23 115.19,427.23 115.19,424.3 115.37,424.3 115.37,427.23 115.92,427.23 115.92,428.7 116.29,428.7 116.29,427.23 116.47,427.23 116.47,425.76 116.66,425.76 116.66,427.23 117.21,427.23 117.21,428.7 117.39,428.7 117.39,427.23 117.58,427.23 117.58,425.76 117.95,425.76 117.95,427.23 118.31,427.23 118.31,428.7 118.5,428.7 118.5,427.23 118.87,427.23 118.87,424.3 119.05,424.3 119.05,425.76 119.23,425.76 119.23,427.23 119.6,427.23 119.6,424.3 119.79,424.3 119.79,428.7 119.97,428.7 119.97,425.76 120.15,425.76 120.15,428.7 120.34,428.7 120.34,427.23 120.52,427.23 120.52,428.7 120.71,428.7 120.71,427.23 121.26,427.23 121.26,428.7 121.44,428.7 121.44,425.76 121.63,425.76 121.63,428.7 121.81,428.7 121.81,427.23 121.99,427.23 121.99,428.7 122.55,428.7 122.55,427.23 122.73,427.23 122.73,428.7 123.1,428.7 123.1,425.76 123.28,425.76 123.28,427.23 123.65,427.23 123.65,428.7 124.2,428.7 124.2,427.23 124.39,427.23 124.39,428.7 125.12,428.7 125.12,427.23 125.31,427.23 125.31,428.7 125.86,428.7 125.86,427.23 126.23,427.23 126.23,428.7 126.96,428.7 126.96,427.23 127.15,427.23 127.15,428.7 128.8,428.7 128.8,427.23 128.99,427.23 128.99,428.7 129.17,428.7 129.17,427.23 129.35,427.23 129.35,428.7 129.91,428.7 129.91,425.76 130.09,425.76 130.09,428.7 130.27,428.7 130.27,427.23 130.64,427.23 130.64,428.7 131.56,428.7 131.56,427.23 131.74,427.23 131.74,428.7 133.22,428.7 133.22,427.23 133.4,427.23 133.4,428.7 137.82,428.7 137.82,427.23 138,427.23 138,428.7 144.81,428.7 144.81,427.23 144.99,427.23 144.99,428.7 150.14,428.7 150.14,427.23 150.33,427.23 150.33,428.7 153.46,428.7 153.46,427.23 153.64,427.23 153.64,428.7 154.56,428.7 154.56,427.23 154.74,427.23 154.74,428.7 154.93,428.7" fill="none" stroke="#64cdd2" stroke-width="1.2" stroke-linejoin="round" />
<polyline points="49.14,428.7 49.32,428.7 49.32,427.23 49.5,427.23 49.5,428.7 49.69,428.7 49.69,425.76 49.87,425.76 49.87,428.7 51.16,428.7 51.16,427.23 51.34,427.23 51.34,428.7 51.53,428.7 51.53,427.23 51.71,427.23 51.71,428.7 52.08,428.7 52.08,427.23 52.26,427.23 52.26,428.7 52.45,428.7 52.45,427.23 52.63,427.23 52.63,428.7 53,428.7 53,427.23 53.18,427.23 53.18,428.7 53.55,428.7 53.55,427.23 53.74,427.23 53.74,428.7 53.92,428.7 53.92,425.76 54.1,425.76 54.1,427.23 54.29,427.23 54.29,428.7 54.47,428.7 54.47,427.23 54.84,427.23 54.84,424.3 55.02,424.3 55.02,428.7 55.21,428.7 55.21,427.23 55.39,427.23 55.39,428.7 55.58,428.7 55.58,427.23 55.76,427.23 55.76,428.7 55.94,428.7 55.94,427.23 56.31,427.23 56.31,424.3 56.5,424.3 56.5,427.23 56.68,427.23 56.68,428.7 56.86,428.7 56.86,427.23 57.23,427.23 57.23,428.7 57.42,428.7 57.42,425.76 57.6,425.76 57.6,428.7 57.78,428.7 57.78,427.23 57.97,427.23 57.97,424.3 58.15,424.3 58.15,425.76 58.34,425.76 58.34,422.83 58.52,422.83 58.52,424.3 58.7,424.3 58.7,425.76 59.07,425.76 59.07,422.83 59.26,422.83 59.26,425.76 59.44,425.76 59.44,422.83 59.62,422.83 59.62,424.3 59.81,424.3 59.81,422.83 60.17,422.83 60.17,424.3 60.36,424.3 60.36,425.76 60.54,425.76 60.54,422.83 60.73,422.83 60.73,424.3 60.91,424.3 60.91,425.76 61.09,425.76 61.09,422.83 61.28,422.83 61.28,425.76 61.46,425.76 61.46,424.3 61.83,424.3 61.83,418.42 62.01,418.42 62.01,419.89 62.38,419.89 62.38,428.7 62.57,428.7 62.57,422.83 62.75,422.83 62.75,409.62 62.93,409.62 62.93,421.36 63.12,421.36 63.12,422.83 63.3,422.83 63.3,421.36 63.49,421.36 63.49,424.3 63.67,424.3 63.67,418.42 63.85,418.42 63.85,419.89 64.04,419.89 64.04,418.42 64.22,418.42 64.22,425.76 64.41,425.76 64.41,422.83 64.59,422.83 64.59,418.42 64.77,418.42 64.77,414.02 64.96,414.02 64.96,418.42 65.14,418.42 65.14,414.02 65.33,414.02 65.33,416.96 65.51,416.96 65.51,418.42 65.88,418.42 65.88,414.02 66.06,414.02 66.06,408.15 66.25,408.15 66.25,418.42 66.43,418.42 66.43,409.62 66.61,409.62 66.61,418.42 66.8,418.42 66.8,412.55 66.98,412.55 66.98,406.68 67.17,406.68 67.17,403.74 67.35,403.74 67.35,415.49 67.53,415.49 67.53,412.55 67.72,412.55 67.72,408.15 67.9,408.15 67.9,411.08 68.09,411.08 68.09,416.96 68.27,416.96 68.27,415.49 68.45,415.49 68.45,412.55 68.64,412.55 68.64,405.21 68.82,405.21 68.82,397.87 69.01,397.87 69.01,405.21 69.37,405.21 69.37,406.68 69.56,406.68 69.56,405.21 69.74,405.21 69.74,397.87 69.93,397.87 69.93,394.94 70.11,394.94 70.11,408.15 70.29,408.15 70.29,409.62 70.48,409.62 70.48,403.74 70.66,403.74 70.66,377.32 70.85,377.32 70.85,403.74 71.03,403.74 71.03,411.08 71.21,411.08 71.21,393.47 71.4,393.47 71.4,396.4 71.58,396.4 71.58,383.19 71.77,383.19 71.77,397.87 71.95,397.87 71.95,386.13 72.13,386.13 72.13,375.85 72.32,375.85 72.32,377.32 72.5,377.32 72.5,390.53 72.69,390.53 72.69,378.79 73.05,378.79 73.05,405.21 73.24,405.21 73.24,383.19 73.42,383.19 73.42,386.13 73.61,386.13 73.61,368.51 73.79,368.51 73.79,372.92 73.97,372.92 73.97,396.4 74.16,396.4 74.16,372.92 74.34,372.92 74.34,369.98 74.53,369.98 74.53,402.28 74.71,402.28 74.71,386.13 74.89,386.13 74.89,374.38 75.08,374.38 75.08,378.79 75.26,378.79 75.26,383.19 75.45,383.19 75.45,359.7 75.63,359.7 75.63,381.72 75.81,381.72 75.81,372.92 76,372.92 76,364.11 76.18,364.11 76.18,361.17 76.37,361.17 76.37,390.53 76.55,390.53 76.55,378.79 76.73,378.79 76.73,392 76.92,392 76.92,375.85 77.1,375.85 77.1,367.04 77.29,367.04 77.29,369.98 77.47,369.98 77.47,362.64 77.65,362.64 77.65,349.43 77.84,349.43 77.84,358.24 78.02,358.24 78.02,359.7 78.21,359.7 78.21,327.41 78.39,327.41 78.39,347.96 78.57,347.96 78.57,374.38 78.76,374.38 78.76,358.24 78.94,358.24 78.94,331.81 79.13,331.81 79.13,368.51 79.31,368.51 79.31,378.79 79.49,378.79 79.49,359.7 79.68,359.7 79.68,343.56 79.86,343.56 79.86,325.94 80.05,325.94 80.05,349.43 80.23,349.43 80.23,345.02 80.41,345.02 80.41,400.81 80.6,400.81 80.6,369.98 80.78,369.98 80.78,321.52 80.97,321.52 80.97,345.02 81.15,345.02 81.15,336.22 81.33,336.22 81.33,355.3 81.52,355.3 81.52,359.7 81.7,359.7 81.7,320.07 81.89,320.07 81.89,339.15 82.07,339.15 82.07,369.98 82.25,369.98 82.25,356.77 82.44,356.77 82.44,352.36 82.62,352.36 82.62,353.83 82.81,353.83 82.81,361.17 82.99,361.17 82.99,324.47 83.17,324.47 83.17,359.7 83.36,359.7 83.36,331.81 83.54,331.81 83.54,355.3 83.72,355.3 83.72,349.43 83.91,349.43 83.91,377.32 84.09,377.32 84.09,346.49 84.28,346.49 84.28,352.36 84.46,352.36 84.46,331.81 84.64,331.81 84.64,374.38 84.83,374.38 84.83,358.24 85.01,358.24 85.01,369.98 85.2,369.98 85.2,368.51 85.38,368.51 85.38,343.56 85.56,343.56 85.56,345.02 85.75,345.02 85.75,375.85 85.93,375.85 85.93,345.02 86.12,345.02 86.12,399.34 86.3,399.34 86.3,362.64 86.48,362.64 86.48,352.36 86.67,352.36 86.67,334.75 86.85,334.75 86.85,365.58 87.04,365.58 87.04,353.83 87.22,353.83 87.22,339.15 87.4,339.15 87.4,345.02 87.59,345.02 87.59,340.62 87.77,340.62 87.77,372.92 87.96,372.92 87.96,368.51 88.14,368.51 88.14,362.64 88.32,362.64 88.32,392 88.51,392 88.51,380.26 88.69,380.26 88.69,375.85 88.88,375.85 88.88,374.38 89.06,374.38 89.06,372.92 89.24,372.92 89.24,368.51 89.43,368.51 89.43,381.72 89.61,381.72 89.61,369.98 89.8,369.98 89.8,372.92 89.98,372.92 89.98,359.7 90.35,359.7 90.35,392 90.53,392 90.53,375.85 90.72,375.85 90.72,365.58 90.9,365.58 90.9,374.38 91.08,374.38 91.08,393.47 91.27,393.47 91.27,369.98 91.45,369.98 91.45,393.47 91.64,393.47 91.64,390.53 91.82,390.53 91.82,369.98 92,369.98 92,381.72 92.19,381.72 92.19,400.81 92.37,400.81 92.37,396.4 92.56,396.4 92.56,378.79 92.74,378.79 92.74,397.87 92.92,397.87 92.92,399.34 93.11,399.34 93.11,383.19 93.29,383.19 93.29,392 93.48,392 93.48,386.13 93.66,386.13 93.66,399.34 93.84,399.34 93.84,405.21 94.03,405.21 94.03,400.81 94.21,400.81 94.21,390.53 94.4,390.53 94.4,392 94.58,392 94.58,397.87 94.76,397.87 94.76,400.81 94.95,400.81 94.95,392 95.13,392 95.13,389.06 95.32,389.06 95.32,400.81 95.5,400.81 95.5,402.28 95.68,402.28 95.68,405.21 95.87,405.21 95.87,409.62 96.05,409.62 96.05,392 96.24,392 96.24,411.08 96.42,411.08 96.42,406.68 96.6,406.68 96.6,409.62 96.79,409.62 96.79,402.28 96.97,402.28 96.97,403.74 97.16,403.74 97.16,405.21 97.34,405.21 97.34,412.55 97.52,412.55 97.52,409.62 97.71,409.62 97.71,411.08 97.89,411.08 97.89,403.74 98.08,403.74 98.08,408.15 98.26,408.15 98.26,409.62 98.44,409.62 98.44,414.02 98.63,414.02 98.63,409.62 98.81,409.62 98.81,419.89 99,419.89 99,415.49 99.18,415.49 99.18,411.08 99.36,411.08 99.36,405.21 99.55,405.21 99.55,412.55 99.92,412.55 99.92,422.83 100.1,422.83 100.1,406.68 100.28,406.68 100.28,422.83 100.47,422.83 100.47,411.08 100.65,411.08 100.65,419.89 100.84,419.89 100.84,412.55 101.02,412.55 101.02,421.36 101.2,421.36 101.2,419.89 101.39,419.89 101.39,421.36 101.57,421.36 101.57,424.3 101.76,424.3 101.76,421.36 101.94,421.36 101.94,419.89 102.31,419.89 102.31,418.42 102.49,418.42 102.49,425.76 102.68,425.76 102.68,416.96 103.04,416.96 103.04,425.76 103.23,425.76 103.23,421.36 103.41,421.36 103.41,424.3 103.6,424.3 103.6,422.83 103.78,422.83 103.78,427.23 103.96,427.23 103.96,421.36 104.15,421.36 104.15,418.42 104.33,418.42 104.33,416.96 104.52,416.96 104.52,418.42 104.7,418.42 104.7,425.76 104.88,425.76 104.88,422.83 105.07,422.83 105.07,425.76 105.25,425.76 105.25,419.89 105.44,419.89 105.44,424.3 105.62,424.3 105.62,422.83 105.8,422.83 105.8,425.76 105.99,425.76 105.99,424.3 106.36,424.3 106.36,421.36 106.54,421.36 106.54,428.7 106.72,428.7 106.72,422.83 106.91,422.83 106.91,424.3 107.09,424.3 107.09,425.76 107.28,425.76 107.28,421.36 107.46,421.36 107.46,428.7 107.64,428.7 107.64,425.76 108.01,425.76 108.01,427.23 108.38,427.23 108.38,424.3 108.56,424.3 108.56,425.76 108.75,425.76 108.75,427.23 108.93,427.23 108.93,428.7 109.11,428.7 109.11,427.23 109.67,427.23 109.67,428.7 110.22,428.7 110.22,427.23 110.4,427.23 110.4,428.7 110.95,428.7 110.95,427.23 111.14,427.23 111.14,428.7 111.32,428.7 111.32,424.3 111.51,424.3 111.51,427.23 111.69,427.23 111.69,425.76 111.87,425.76 111.87,427.23 112.06,427.23 112.06,425.76 112.24,425.76 112.24,427.23 112.79,427.23 112.79,425.76 112.98,425.76 112.98,427.23 113.16,427.23 113.16,428.7 113.35,428.7 113.35,425.76 113.53,425.76 113.53,428.7 114.27,428.7 114.27,427.23 114.45,427.23 114.45,428.7 114.63,428.7 114.63,427.23 114.82,427.23 114.82,428.7 115,428.7 115,427.23 115.19,427.23 115.19,425.76 115.37,425.76 115.37,428.7 116.29,428.7 116.29,427.23 116.47,427.23 116.47,428.7 116.66,428.7 116.66,427.23 117.21,427.23 117.21,428.7 117.95,428.7 117.95,427.23 118.31,427.23 118.31,428.7 127.15,428.7 127.15,427.23 127.33,427.23 127.33,428.7 127.51,428.7" fill="none" stroke="#50be5a" stroke-width="1.2" stroke-linejoin="round" />
<line x1="48.4" y1="252" x2="237.5" y2="252" stroke="#444" stroke-width="1.6" />
<line x1="237.5" y1="252" x2="237.5" y2="428.7" stroke="#777" stroke-width="1.3" />
<line x1="48.4" y1="251.5" x2="48.4" y2="429.5" stroke="#111" stroke-width="1.5" />
<line x1="46.2" y1="428.7" x2="48.4" y2="428.7" stroke="#111" stroke-width="1.0" />
<line x1="46.2" y1="422.83" x2="48.4" y2="422.83" stroke="#111" stroke-width="1.0" />
<line x1="46.2" y1="416.96" x2="48.4" y2="416.96" stroke="#111" stroke-width="1.0" />
<line x1="46.2" y1="411.08" x2="48.4" y2="411.08" stroke="#111" stroke-width="1.0" />
<line x1="46.2" y1="405.21" x2="48.4" y2="405.21" stroke="#111" stroke-width="1.0" />
<line x1="46.2" y1="399.34" x2="48.4" y2="399.34" stroke="#111" stroke-width="1.0" />
<line x1="46.2" y1="393.47" x2="48.4" y2="393.47" stroke="#111" stroke-width="1.0" />
<line x1="46.2" y1="387.6" x2="48.4" y2="387.6" stroke="#111" stroke-width="1.0" />
<line x1="46.2" y1="381.72" x2="48.4" y2="381.72" stroke="#111" stroke-width="1.0" />
<line x1="46.2" y1="375.85" x2="48.4" y2="375.85" stroke="#111" stroke-width="1.0" />
<line x1="46.2" y1="369.98" x2="48.4" y2="369.98" stroke="#111" stroke-width="1.0" />
<line x1="46.2" y1="364.11" x2="48.4" y2="364.11" stroke="#111" stroke-width="1.0" />
<line x1="46.2" y1="358.24" x2="48.4" y2="358.24" stroke="#111" stroke-width="1.0" />
<line x1="46.2" y1="352.36" x2="48.4" y2="352.36" stroke="#111" stroke-width="1.0" />
<line x1="46.2" y1="346.49" x2="48.4" y2="346.49" stroke="#111" stroke-width="1.0" />
<line x1="46.2" y1="340.62" x2="48.4" y2="340.62" stroke="#111" stroke-width="1.0" />
<line x1="46.2" y1="334.75" x2="48.4" y2="334.75" stroke="#111" stroke-width="1.0" />
<line x1="46.2" y1="328.88" x2="48.4" y2="328.88" stroke="#111" stroke-width="1.0" />
<line x1="46.2" y1="323" x2="48.4" y2="323" stroke="#111" stroke-width="1.0" />
<line x1="46.2" y1="317.13" x2="48.4" y2="317.13" stroke="#111" stroke-width="1.0" />
<line x1="46.2" y1="311.26" x2="48.4" y2="311.26" stroke="#111" stroke-width="1.0" />
<line x1="46.2" y1="305.39" x2="48.4" y2="305.39" stroke="#111" stroke-width="1.0" />
<line x1="46.2" y1="299.52" x2="48.4" y2="299.52" stroke="#111" stroke-width="1.0" />
<line x1="46.2" y1="293.64" x2="48.4" y2="293.64" stroke="#111" stroke-width="1.0" />
<line x1="46.2" y1="287.77" x2="48.4" y2="287.77" stroke="#111" stroke-width="1.0" />
<line x1="46.2" y1="281.9" x2="48.4" y2="281.9" stroke="#111" stroke-width="1.0" />
<line x1="46.2" y1="276.03" x2="48.4" y2="276.03" stroke="#111" stroke-width="1.0" />
<line x1="46.2" y1="270.16" x2="48.4" y2="270.16" stroke="#111" stroke-width="1.0" />
<line x1="46.2" y1="264.28" x2="48.4" y2="264.28" stroke="#111" stroke-width="1.0" />
<line x1="46.2" y1="258.41" x2="48.4" y2="258.41" stroke="#111" stroke-width="1.0" />
<line x1="46.2" y1="252.54" x2="48.4" y2="252.54" stroke="#111" stroke-width="1.0" />
<line x1="43.9" y1="428.7" x2="48.4" y2="428.7" stroke="#111" stroke-width="1.1" />
<text x="40.6" y="432.6" font-size="14" font-family='"Liberation Sans", sans-serif' fill="#000" text-anchor="end" textLength="6.85" lengthAdjust="spacingAndGlyphs" >0</text>
<line x1="43.9" y1="399.34" x2="48.4" y2="399.34" stroke="#111" stroke-width="1.1" />
<text x="40.6" y="403.24" font-size="14" font-family='"Liberation Sans", sans-serif' fill="#000" text-anchor="end" textLength="13.7" lengthAdjust="spacingAndGlyphs" >20</text>
<line x1="43.9" y1="369.98" x2="48.4" y2="369.98" stroke="#111" stroke-width="1.1" />
<text x="40.6" y="373.88" font-size="14" font-family='"Liberation Sans", sans-serif' fill="#000" text-anchor="end" textLength="13.7" lengthAdjust="spacingAndGlyphs" >40</text>
<line x1="43.9" y1="340.62" x2="48.4" y2="340.62" stroke="#111" stroke-width="1.1" />
<text x="40.6" y="344.52" font-size="14" font-family='"Liberation Sans", sans-serif' fill="#000" text-anchor="end" textLength="13.7" lengthAdjust="spacingAndGlyphs" >60</text>
<line x1="43.9" y1="311.26" x2="48.4" y2="311.26" stroke="#111" stroke-width="1.1" />
<text x="40.6" y="315.16" font-size="14" font-family='"Liberation Sans", sans-serif' fill="#000" text-anchor="end" textLength="13.7" lengthAdjust="spacingAndGlyphs" >80</text>
<line x1="43.9" y1="281.9" x2="48.4" y2="281.9" stroke="#111" stroke-width="1.1" />
<text x="40.6" y="285.8" font-size="14" font-family='"Liberation Sans", sans-serif' fill="#000" text-anchor="end" textLength="20.55" lengthAdjust="spacingAndGlyphs" >100</text>
<line x1="43.9" y1="252.54" x2="48.4" y2="252.54" stroke="#111" stroke-width="1.1" />
<text x="40.6" y="256.44" font-size="14" font-family='"Liberation Sans", sans-serif' fill="#000" text-anchor="end" textLength="20.55" lengthAdjust="spacingAndGlyphs" >120</text>
<line x1="48.4" y1="428.7" x2="48.4" y2="432.2" stroke="#111" stroke-width="1.1" />
<text x="46.9" y="448.8" font-size="12.5" font-family='"Liberation Sans", sans-serif' fill="#000" text-anchor="middle" textLength="12.4" lengthAdjust="spacingAndGlyphs" >10</text>
<text x="53.7" y="443" font-size="8" font-family='"Liberation Sans", sans-serif' fill="#000" >0</text>
<line x1="62.58" y1="428.7" x2="62.58" y2="430.7" stroke="#111" stroke-width="0.9" />
<line x1="70.87" y1="428.7" x2="70.87" y2="430.7" stroke="#111" stroke-width="0.9" />
<line x1="76.76" y1="428.7" x2="76.76" y2="430.7" stroke="#111" stroke-width="0.9" />
<line x1="81.32" y1="428.7" x2="81.32" y2="430.7" stroke="#111" stroke-width="0.9" />
<line x1="85.05" y1="428.7" x2="85.05" y2="430.7" stroke="#111" stroke-width="0.9" />
<line x1="88.2" y1="428.7" x2="88.2" y2="430.7" stroke="#111" stroke-width="0.9" />
<line x1="90.94" y1="428.7" x2="90.94" y2="430.7" stroke="#111" stroke-width="0.9" />
<line x1="93.34" y1="428.7" x2="93.34" y2="430.7" stroke="#111" stroke-width="0.9" />
<line x1="95.5" y1="428.7" x2="95.5" y2="432.2" stroke="#111" stroke-width="1.1" />
<text x="94" y="448.8" font-size="12.5" font-family='"Liberation Sans", sans-serif' fill="#000" text-anchor="middle" textLength="12.4" lengthAdjust="spacingAndGlyphs" >10</text>
<text x="100.8" y="443" font-size="8" font-family='"Liberation Sans", sans-serif' fill="#000" >1</text>
<line x1="109.68" y1="428.7" x2="109.68" y2="430.7" stroke="#111" stroke-width="0.9" />
<line x1="117.97" y1="428.7" x2="117.97" y2="430.7" stroke="#111" stroke-width="0.9" />
<line x1="123.86" y1="428.7" x2="123.86" y2="430.7" stroke="#111" stroke-width="0.9" />
<line x1="128.42" y1="428.7" x2="128.42" y2="430.7" stroke="#111" stroke-width="0.9" />
<line x1="132.15" y1="428.7" x2="132.15" y2="430.7" stroke="#111" stroke-width="0.9" />
<line x1="135.3" y1="428.7" x2="135.3" y2="430.7" stroke="#111" stroke-width="0.9" />
<line x1="138.04" y1="428.7" x2="138.04" y2="430.7" stroke="#111" stroke-width="0.9" />
<line x1="140.44" y1="428.7" x2="140.44" y2="430.7" stroke="#111" stroke-width="0.9" />
<line x1="142.6" y1="428.7" x2="142.6" y2="432.2" stroke="#111" stroke-width="1.1" />
<text x="141.1" y="448.8" font-size="12.5" font-family='"Liberation Sans", sans-serif' fill="#000" text-anchor="middle" textLength="12.4" lengthAdjust="spacingAndGlyphs" >10</text>
<text x="147.9" y="443" font-size="8" font-family='"Liberation Sans", sans-serif' fill="#000" >2</text>
<line x1="156.78" y1="428.7" x2="156.78" y2="430.7" stroke="#111" stroke-width="0.9" />
<line x1="165.07" y1="428.7" x2="165.07" y2="430.7" stroke="#111" stroke-width="0.9" />
<line x1="170.96" y1="428.7" x2="170.96" y2="430.7" stroke="#111" stroke-width="0.9" />
<line x1="175.52" y1="428.7" x2="175.52" y2="430.7" stroke="#111" stroke-width="0.9" />
<line x1="179.25" y1="428.7" x2="179.25" y2="430.7" stroke="#111" stroke-width="0.9" />
<line x1="182.4" y1="428.7" x2="182.4" y2="430.7" stroke="#111" stroke-width="0.9" />
<line x1="185.14" y1="428.7" x2="185.14" y2="430.7" stroke="#111" stroke-width="0.9" />
<line x1="187.54" y1="428.7" x2="187.54" y2="430.7" stroke="#111" stroke-width="0.9" />
<line x1="189.7" y1="428.7" x2="189.7" y2="432.2" stroke="#111" stroke-width="1.1" />
<text x="188.2" y="448.8" font-size="12.5" font-family='"Liberation Sans", sans-serif' fill="#000" text-anchor="middle" textLength="12.4" lengthAdjust="spacingAndGlyphs" >10</text>
<text x="195" y="443" font-size="8" font-family='"Liberation Sans", sans-serif' fill="#000" >3</text>
<line x1="203.88" y1="428.7" x2="203.88" y2="430.7" stroke="#111" stroke-width="0.9" />
<line x1="212.17" y1="428.7" x2="212.17" y2="430.7" stroke="#111" stroke-width="0.9" />
<line x1="218.06" y1="428.7" x2="218.06" y2="430.7" stroke="#111" stroke-width="0.9" />
<line x1="222.62" y1="428.7" x2="222.62" y2="430.7" stroke="#111" stroke-width="0.9" />
<line x1="226.35" y1="428.7" x2="226.35" y2="430.7" stroke="#111" stroke-width="0.9" />
<line x1="229.5" y1="428.7" x2="229.5" y2="430.7" stroke="#111" stroke-width="0.9" />
<line x1="232.24" y1="428.7" x2="232.24" y2="430.7" stroke="#111" stroke-width="0.9" />
<line x1="234.64" y1="428.7" x2="234.64" y2="430.7" stroke="#111" stroke-width="0.9" />
<line x1="236.8" y1="428.7" x2="236.8" y2="432.2" stroke="#111" stroke-width="1.1" />
<clipPath id="clipc"><rect x="200" y="430" width="42.4" height="30"/></clipPath>
<text x="235.3" y="448.8" font-size="12.5" font-family='"Liberation Sans", sans-serif' fill="#000" text-anchor="middle" textLength="12.4" lengthAdjust="spacingAndGlyphs" clip-path="url(#clipc)">10</text>
<text x="13.8" y="340" font-size="12" font-family='"Liberation Sans", sans-serif' fill="#000" font-weight="bold" text-anchor="middle" transform="rotate(-90 13.8 340)" dominant-baseline="central">Count</text>
<text x="140" y="463.8" font-size="10.6" font-family='"Liberation Sans", sans-serif' fill="#000" font-weight="bold" text-anchor="middle" textLength="48.4" lengthAdjust="spacingAndGlyphs" >FL1 (Log)</text>
<text x="58.6" y="274.6" font-size="12" font-family='"Liberation Serif", serif' fill="#444" stroke="#444" stroke-width="0.2" >(c</text>
<line x1="90.7" y1="259.5" x2="102.8" y2="259.5" stroke="#111" stroke-width="1.4" />
<text x="105" y="263" font-size="10" font-family='"Liberation Sans", sans-serif' fill="#000" stroke="#000" stroke-width="0.2" textLength="56.3" lengthAdjust="spacingAndGlyphs" >Control 1 (PBS)</text>
<line x1="90.7" y1="269.1" x2="102.8" y2="269.1" stroke="#9fdde0" stroke-width="1.4" />
<text x="105" y="272.6" font-size="10" font-family='"Liberation Sans", sans-serif' fill="#000" stroke="#000" stroke-width="0.2" textLength="98.5" lengthAdjust="spacingAndGlyphs" >Control 2 (G5-FITC-cON34)</text>
<line x1="90.7" y1="278.7" x2="102.8" y2="278.7" stroke="#60b860" stroke-width="1.4" />
<text x="105" y="282.2" font-size="10" font-family='"Liberation Sans", sans-serif' fill="#000" stroke="#000" stroke-width="0.2" textLength="133.8" lengthAdjust="spacingAndGlyphs" >Control 3 (Mixture of DNA conjugtes)</text>
<line x1="90.7" y1="288.3" x2="102.8" y2="288.3" stroke="#f07060" stroke-width="1.4" />
<text x="105" y="291.8" font-size="10" font-family='"Liberation Sans", sans-serif' fill="#000" stroke="#000" stroke-width="0.2" textLength="26.8" lengthAdjust="spacingAndGlyphs" >Cluster</text>
<text x="272.1" y="233.8" font-size="18.8" font-family='"Liberation Sans", sans-serif' fill="#000" stroke="#000" stroke-width="0.3" font-weight="bold" >D</text>
<defs><pattern id="dots" width="2" height="2" patternUnits="userSpaceOnUse"><rect width="2" height="2" fill="#d0d0d0"/><rect width="2" height="1" fill="#bcbcbc"/></pattern></defs>
<rect x="323.08" y="403.07" width="13" height="27.12" fill="#000"/>
<line x1="329.58" y1="403.07" x2="329.58" y2="398.26" stroke="#000" stroke-width="1.8" />
<rect x="327.18" y="397.26" width="4.8" height="2.2" rx="1" fill="#000"/>
<rect x="336.78" y="407.24" width="10.1" height="22.96" fill="url(#dots)" stroke="#000" stroke-width="2.2"/>
<line x1="341.83" y1="406.14" x2="341.83" y2="389.51" stroke="#000" stroke-width="1.8" />
<rect x="339.43" y="388.51" width="4.8" height="2.2" rx="1" fill="#000"/>
<rect x="362.44" y="352.32" width="13" height="77.88" fill="#000"/>
<line x1="368.94" y1="352.32" x2="368.94" y2="326.95" stroke="#000" stroke-width="1.8" />
<rect x="366.54" y="325.95" width="4.8" height="2.2" rx="1" fill="#000"/>
<rect x="376.14" y="384.93" width="10.1" height="45.27" fill="url(#dots)" stroke="#000" stroke-width="2.2"/>
<line x1="381.19" y1="383.82" x2="381.19" y2="378.57" stroke="#000" stroke-width="1.8" />
<rect x="378.79" y="377.57" width="4.8" height="2.2" rx="1" fill="#000"/>
<rect x="401.8" y="388.64" width="13" height="41.56" fill="#000"/>
<line x1="408.3" y1="388.64" x2="408.3" y2="377.7" stroke="#000" stroke-width="1.8" />
<rect x="405.9" y="376.7" width="4.8" height="2.2" rx="1" fill="#000"/>
<rect x="415.5" y="406.36" width="10.1" height="23.84" fill="url(#dots)" stroke="#000" stroke-width="2.2"/>
<line x1="420.55" y1="405.26" x2="420.55" y2="400.45" stroke="#000" stroke-width="1.8" />
<rect x="418.15" y="399.45" width="4.8" height="2.2" rx="1" fill="#000"/>
<rect x="441.16" y="400.45" width="13" height="29.75" fill="#000"/>
<line x1="447.66" y1="400.45" x2="447.66" y2="393.89" stroke="#000" stroke-width="1.8" />
<rect x="445.26" y="392.89" width="4.8" height="2.2" rx="1" fill="#000"/>
<rect x="454.86" y="387.99" width="10.1" height="42.21" fill="url(#dots)" stroke="#000" stroke-width="2.2"/>
<line x1="459.91" y1="386.89" x2="459.91" y2="382.51" stroke="#000" stroke-width="1.8" />
<rect x="457.51" y="381.51" width="4.8" height="2.2" rx="1" fill="#000"/>
<rect x="480.52" y="404.39" width="13" height="25.81" fill="#000"/>
<line x1="487.02" y1="404.39" x2="487.02" y2="401.32" stroke="#000" stroke-width="1.8" />
<rect x="484.62" y="400.32" width="4.8" height="2.2" rx="1" fill="#000"/>
<rect x="494.22" y="391.49" width="10.1" height="38.71" fill="url(#dots)" stroke="#000" stroke-width="2.2"/>
<line x1="499.27" y1="390.39" x2="499.27" y2="385.57" stroke="#000" stroke-width="1.8" />
<rect x="496.87" y="384.57" width="4.8" height="2.2" rx="1" fill="#000"/>
<line x1="315.8" y1="255.2" x2="512.6" y2="255.2" stroke="#000" stroke-width="2.0" />
<line x1="512.6" y1="255.2" x2="512.6" y2="430.2" stroke="#000" stroke-width="2.0" />
<line x1="315.8" y1="254.2" x2="315.8" y2="431.2" stroke="#000" stroke-width="2.0" />
<line x1="314.8" y1="430.2" x2="513.6" y2="430.2" stroke="#000" stroke-width="2.4" />
<line x1="312.3" y1="430.2" x2="315.8" y2="430.2" stroke="#000" stroke-width="1.6" />
<text x="308.5" y="432.9" font-size="7.6" font-family='"Liberation Sans", sans-serif' fill="#000" stroke="#000" stroke-width="0.2" font-weight="bold" text-anchor="end" >0</text>
<line x1="312.3" y1="408.32" x2="315.8" y2="408.32" stroke="#000" stroke-width="1.6" />
<text x="308.5" y="411.02" font-size="7.6" font-family='"Liberation Sans", sans-serif' fill="#000" stroke="#000" stroke-width="0.2" font-weight="bold" text-anchor="end" >5</text>
<line x1="312.3" y1="386.45" x2="315.8" y2="386.45" stroke="#000" stroke-width="1.6" />
<text x="308.5" y="389.15" font-size="7.6" font-family='"Liberation Sans", sans-serif' fill="#000" stroke="#000" stroke-width="0.2" font-weight="bold" text-anchor="end" >10</text>
<line x1="312.3" y1="364.57" x2="315.8" y2="364.57" stroke="#000" stroke-width="1.6" />
<text x="308.5" y="367.27" font-size="7.6" font-family='"Liberation Sans", sans-serif' fill="#000" stroke="#000" stroke-width="0.2" font-weight="bold" text-anchor="end" >15</text>
<line x1="312.3" y1="342.7" x2="315.8" y2="342.7" stroke="#000" stroke-width="1.6" />
<text x="308.5" y="345.4" font-size="7.6" font-family='"Liberation Sans", sans-serif' fill="#000" stroke="#000" stroke-width="0.2" font-weight="bold" text-anchor="end" >20</text>
<line x1="312.3" y1="320.82" x2="315.8" y2="320.82" stroke="#000" stroke-width="1.6" />
<text x="308.5" y="323.52" font-size="7.6" font-family='"Liberation Sans", sans-serif' fill="#000" stroke="#000" stroke-width="0.2" font-weight="bold" text-anchor="end" >25</text>
<line x1="312.3" y1="298.95" x2="315.8" y2="298.95" stroke="#000" stroke-width="1.6" />
<text x="308.5" y="301.65" font-size="7.6" font-family='"Liberation Sans", sans-serif' fill="#000" stroke="#000" stroke-width="0.2" font-weight="bold" text-anchor="end" >30</text>
<line x1="312.3" y1="277.07" x2="315.8" y2="277.07" stroke="#000" stroke-width="1.6" />
<text x="308.5" y="279.77" font-size="7.6" font-family='"Liberation Sans", sans-serif' fill="#000" stroke="#000" stroke-width="0.2" font-weight="bold" text-anchor="end" >35</text>
<line x1="312.3" y1="255.2" x2="315.8" y2="255.2" stroke="#000" stroke-width="1.6" />
<text x="308.5" y="257.9" font-size="7.6" font-family='"Liberation Sans", sans-serif' fill="#000" stroke="#000" stroke-width="0.2" font-weight="bold" text-anchor="end" >40</text>
<line x1="315.8" y1="430.2" x2="315.8" y2="433.2" stroke="#000" stroke-width="1.4" />
<line x1="355.16" y1="430.2" x2="355.16" y2="433.2" stroke="#000" stroke-width="1.4" />
<line x1="394.52" y1="430.2" x2="394.52" y2="433.2" stroke="#000" stroke-width="1.4" />
<line x1="433.88" y1="430.2" x2="433.88" y2="433.2" stroke="#000" stroke-width="1.4" />
<line x1="473.24" y1="430.2" x2="473.24" y2="433.2" stroke="#000" stroke-width="1.4" />
<line x1="512.6" y1="430.2" x2="512.6" y2="433.2" stroke="#000" stroke-width="1.4" />
<text x="290.3" y="341.2" font-size="9" font-family='"Liberation Sans", sans-serif' fill="#000" font-weight="bold" text-anchor="middle" textLength="85.6" lengthAdjust="spacingAndGlyphs" transform="rotate(-90 290.3 341.2)" dominant-baseline="central">Mean Fluorescence</text>
<text x="329.5" y="286.2" font-size="13" font-family='"Liberation Serif", serif' fill="#444" stroke="#444" stroke-width="0.3" >(d)</text>
<rect x="416.8" y="261.8" width="86.4" height="28.8" fill="#fff" stroke="#000" stroke-width="2"/>
<rect x="419.6" y="266.5" width="7.6" height="7.6" fill="#000"/>
<rect x="420.4" y="279.6" width="6.2" height="6.2" fill="#eee" stroke="#000" stroke-width="1.6"/>
<text x="428.5" y="274.3" font-size="10" font-family='"Liberation Sans", sans-serif' fill="#000" stroke="#000" stroke-width="0.2" textLength="72" lengthAdjust="spacingAndGlyphs" >KB with FAR (+)</text>
<text x="428.5" y="286.6" font-size="10" font-family='"Liberation Sans", sans-serif' fill="#000" stroke="#000" stroke-width="0.2" textLength="69" lengthAdjust="spacingAndGlyphs" >KB with FAR (-)</text>
<text x="0" y="0" font-size="7.6" font-weight="bold" font-family='"Liberation Sans", sans-serif' stroke="#000" stroke-width="0.5" text-anchor="end" textLength="14.9" lengthAdjust="spacingAndGlyphs" transform="translate(332.4 443.8) rotate(-45)">PBS</text>
<text x="0" y="0" font-size="7.6" font-weight="bold" font-family='"Liberation Sans", sans-serif' stroke="#000" stroke-width="0.5" text-anchor="end" textLength="25" lengthAdjust="spacingAndGlyphs" transform="translate(370.5 443.8) rotate(-45)">Cluster</text>
<text x="0" y="0" font-size="7.6" font-weight="bold" font-family='"Liberation Sans", sans-serif' stroke="#000" stroke-width="0.5" text-anchor="end" textLength="37.3" lengthAdjust="spacingAndGlyphs" transform="translate(409.6 444.9) rotate(-45)">FA+Cluster</text>
<text x="0" y="0" font-size="7.6" font-weight="bold" font-family='"Liberation Sans", sans-serif' stroke="#000" stroke-width="0.5" text-anchor="end" textLength="40.5" lengthAdjust="spacingAndGlyphs" transform="translate(449.4 445) rotate(-45)">G5-FI-cON34</text>
<text x="0" y="0" font-size="7.6" font-weight="bold" font-family='"Liberation Sans", sans-serif' stroke="#000" stroke-width="0.5" text-anchor="end" textLength="99.5" lengthAdjust="spacingAndGlyphs" transform="translate(489.6 444.1) rotate(-45)">G5-FA-cON34 +G5-FI-cON34</text>
</svg>
</body></html>
